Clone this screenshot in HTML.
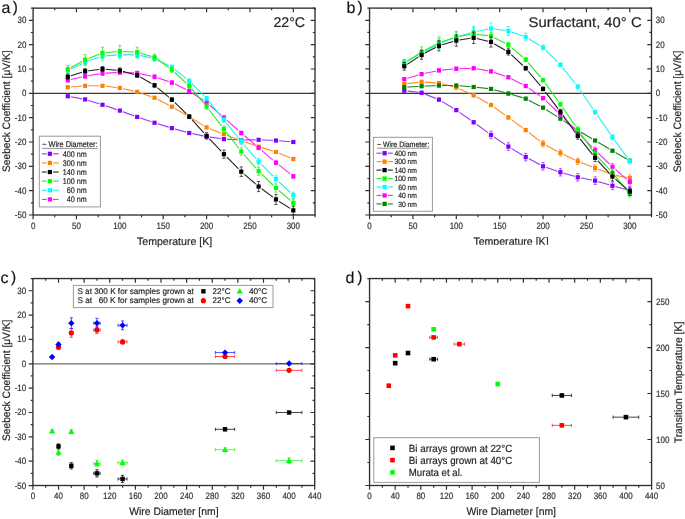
<!DOCTYPE html>
<html><head><meta charset="utf-8"><title>Seebeck figure</title>
<style>
html,body{margin:0;padding:0;background:#fff;}
body{width:685px;height:519px;overflow:hidden;}
svg{display:block;}
text{font-family:"Liberation Sans", sans-serif;text-rendering:geometricPrecision;stroke:#333;stroke-width:0.2px;}
</style></head>
<body>
<svg width="685" height="519" viewBox="0 0 685 519" style="will-change:transform">
<rect width="685" height="519" fill="#fff"/>
<line x1="33.1" y1="93.33" x2="315" y2="93.33" stroke="#3a3a3a" stroke-width="1.2"/>
<mask id="m1" maskUnits="userSpaceOnUse" x="0" y="0" width="685" height="519"><rect width="685" height="519" fill="#fff"/><rect x="64.7" y="93.15" width="6.2" height="6.2" fill="#000"/><rect x="82.04" y="96.31" width="6.2" height="6.2" fill="#000"/><rect x="99.39" y="101.67" width="6.2" height="6.2" fill="#000"/><rect x="116.74" y="107.51" width="6.2" height="6.2" fill="#000"/><rect x="134.09" y="113.83" width="6.2" height="6.2" fill="#000"/><rect x="151.44" y="119.68" width="6.2" height="6.2" fill="#000"/><rect x="168.78" y="125.03" width="6.2" height="6.2" fill="#000"/><rect x="186.13" y="129.9" width="6.2" height="6.2" fill="#000"/><rect x="203.48" y="133.55" width="6.2" height="6.2" fill="#000"/><rect x="220.83" y="135.98" width="6.2" height="6.2" fill="#000"/><rect x="238.18" y="136.95" width="6.2" height="6.2" fill="#000"/><rect x="255.52" y="136.71" width="6.2" height="6.2" fill="#000"/><rect x="272.87" y="137.44" width="6.2" height="6.2" fill="#000"/><rect x="290.22" y="138.9" width="6.2" height="6.2" fill="#000"/></mask>
<g mask="url(#m1)">
<polyline points="67.8,96.25 85.14,99.41 102.49,104.77 119.84,110.61 137.19,116.93 154.54,122.78 171.88,128.13 189.23,133 206.58,136.65 223.93,139.08 241.28,140.05 258.62,139.81 275.97,140.54 293.32,142" fill="none" stroke="#9933ff" stroke-width="1.1" stroke-linejoin="round"/>
</g>
<mask id="m2" maskUnits="userSpaceOnUse" x="0" y="0" width="685" height="519"><rect width="685" height="519" fill="#fff"/><rect x="64.7" y="84.15" width="6.2" height="6.2" fill="#000"/><rect x="82.04" y="82.69" width="6.2" height="6.2" fill="#000"/><rect x="99.39" y="82.69" width="6.2" height="6.2" fill="#000"/><rect x="116.74" y="84.88" width="6.2" height="6.2" fill="#000"/><rect x="134.09" y="88.77" width="6.2" height="6.2" fill="#000"/><rect x="151.44" y="94.61" width="6.2" height="6.2" fill="#000"/><rect x="168.78" y="103.61" width="6.2" height="6.2" fill="#000"/><rect x="186.13" y="113.59" width="6.2" height="6.2" fill="#000"/><rect x="203.48" y="124.3" width="6.2" height="6.2" fill="#000"/><rect x="220.83" y="131.11" width="6.2" height="6.2" fill="#000"/><rect x="238.18" y="137.68" width="6.2" height="6.2" fill="#000"/><rect x="255.52" y="143.52" width="6.2" height="6.2" fill="#000"/><rect x="272.87" y="148.88" width="6.2" height="6.2" fill="#000"/><rect x="290.22" y="155.93" width="6.2" height="6.2" fill="#000"/></mask>
<g mask="url(#m2)">
<polyline points="67.8,87.25 85.14,85.79 102.49,85.79 119.84,87.98 137.19,91.87 154.54,97.71 171.88,106.71 189.23,116.69 206.58,127.4 223.93,134.21 241.28,140.78 258.62,146.62 275.97,151.98 293.32,159.03" fill="none" stroke="#ff8c1a" stroke-width="1.1" stroke-linejoin="round"/>
</g>
<mask id="m3" maskUnits="userSpaceOnUse" x="0" y="0" width="685" height="519"><rect width="685" height="519" fill="#fff"/><rect x="64.7" y="77.09" width="6.2" height="6.2" fill="#000"/><rect x="82.04" y="73.2" width="6.2" height="6.2" fill="#000"/><rect x="99.39" y="70.28" width="6.2" height="6.2" fill="#000"/><rect x="116.74" y="69.3" width="6.2" height="6.2" fill="#000"/><rect x="134.09" y="70.03" width="6.2" height="6.2" fill="#000"/><rect x="151.44" y="73.68" width="6.2" height="6.2" fill="#000"/><rect x="168.78" y="79.52" width="6.2" height="6.2" fill="#000"/><rect x="186.13" y="87.92" width="6.2" height="6.2" fill="#000"/><rect x="203.48" y="99.48" width="6.2" height="6.2" fill="#000"/><rect x="220.83" y="114.56" width="6.2" height="6.2" fill="#000"/><rect x="238.18" y="129.9" width="6.2" height="6.2" fill="#000"/><rect x="255.52" y="144.74" width="6.2" height="6.2" fill="#000"/><rect x="272.87" y="159.58" width="6.2" height="6.2" fill="#000"/><rect x="290.22" y="173.21" width="6.2" height="6.2" fill="#000"/></mask>
<g mask="url(#m3)">
<polyline points="67.8,80.19 85.14,76.3 102.49,73.38 119.84,72.4 137.19,73.13 154.54,76.78 171.88,82.62 189.23,91.02 206.58,102.58 223.93,117.66 241.28,133 258.62,147.84 275.97,162.68 293.32,176.31" fill="none" stroke="#ff22ff" stroke-width="1.1" stroke-linejoin="round"/>
</g>
<mask id="m4" maskUnits="userSpaceOnUse" x="0" y="0" width="685" height="519"><rect width="685" height="519" fill="#fff"/><rect x="64.7" y="67.36" width="6.2" height="6.2" fill="#000"/><rect x="82.04" y="59.08" width="6.2" height="6.2" fill="#000"/><rect x="99.39" y="53" width="6.2" height="6.2" fill="#000"/><rect x="116.74" y="51.78" width="6.2" height="6.2" fill="#000"/><rect x="134.09" y="51.78" width="6.2" height="6.2" fill="#000"/><rect x="151.44" y="55.43" width="6.2" height="6.2" fill="#000"/><rect x="168.78" y="63.95" width="6.2" height="6.2" fill="#000"/><rect x="186.13" y="77.82" width="6.2" height="6.2" fill="#000"/><rect x="203.48" y="95.34" width="6.2" height="6.2" fill="#000"/><rect x="220.83" y="116.76" width="6.2" height="6.2" fill="#000"/><rect x="238.18" y="138.66" width="6.2" height="6.2" fill="#000"/><rect x="255.52" y="158.61" width="6.2" height="6.2" fill="#000"/><rect x="272.87" y="175.89" width="6.2" height="6.2" fill="#000"/><rect x="290.22" y="192.19" width="6.2" height="6.2" fill="#000"/></mask>
<g mask="url(#m4)">
<polyline points="67.8,70.46 85.14,62.18 102.49,56.1 119.84,54.88 137.19,54.88 154.54,58.53 171.88,67.05 189.23,80.92 206.58,98.44 223.93,119.86 241.28,141.76 258.62,161.71 275.97,178.99 293.32,195.29" fill="none" stroke="#22eeee" stroke-width="1.1" stroke-linejoin="round"/>
</g>
<mask id="m5" maskUnits="userSpaceOnUse" x="0" y="0" width="685" height="519"><rect width="685" height="519" fill="#fff"/><rect x="64.7" y="66.14" width="6.2" height="6.2" fill="#000"/><rect x="82.04" y="56.65" width="6.2" height="6.2" fill="#000"/><rect x="99.39" y="49.83" width="6.2" height="6.2" fill="#000"/><rect x="116.74" y="48.13" width="6.2" height="6.2" fill="#000"/><rect x="134.09" y="49.1" width="6.2" height="6.2" fill="#000"/><rect x="151.44" y="54.21" width="6.2" height="6.2" fill="#000"/><rect x="168.78" y="66.63" width="6.2" height="6.2" fill="#000"/><rect x="186.13" y="82.69" width="6.2" height="6.2" fill="#000"/><rect x="203.48" y="103.37" width="6.2" height="6.2" fill="#000"/><rect x="220.83" y="126" width="6.2" height="6.2" fill="#000"/><rect x="238.18" y="148.39" width="6.2" height="6.2" fill="#000"/><rect x="255.52" y="168.1" width="6.2" height="6.2" fill="#000"/><rect x="272.87" y="184.89" width="6.2" height="6.2" fill="#000"/><rect x="290.22" y="199.74" width="6.2" height="6.2" fill="#000"/></mask>
<g mask="url(#m5)">
<polyline points="67.8,69.24 85.14,59.75 102.49,52.93 119.84,51.23 137.19,52.2 154.54,57.31 171.88,69.73 189.23,85.79 206.58,106.47 223.93,129.1 241.28,151.49 258.62,171.2 275.97,187.99 293.32,202.84" fill="none" stroke="#22ee22" stroke-width="1.1" stroke-linejoin="round"/>
</g>
<mask id="m6" maskUnits="userSpaceOnUse" x="0" y="0" width="685" height="519"><rect width="685" height="519" fill="#fff"/><rect x="64.7" y="73.68" width="6.2" height="6.2" fill="#000"/><rect x="82.04" y="68.09" width="6.2" height="6.2" fill="#000"/><rect x="99.39" y="65.9" width="6.2" height="6.2" fill="#000"/><rect x="116.74" y="67.36" width="6.2" height="6.2" fill="#000"/><rect x="134.09" y="72.22" width="6.2" height="6.2" fill="#000"/><rect x="151.44" y="82.2" width="6.2" height="6.2" fill="#000"/><rect x="168.78" y="96.56" width="6.2" height="6.2" fill="#000"/><rect x="186.13" y="113.59" width="6.2" height="6.2" fill="#000"/><rect x="203.48" y="132.82" width="6.2" height="6.2" fill="#000"/><rect x="220.83" y="151.07" width="6.2" height="6.2" fill="#000"/><rect x="238.18" y="168.59" width="6.2" height="6.2" fill="#000"/><rect x="255.52" y="183.43" width="6.2" height="6.2" fill="#000"/><rect x="272.87" y="196.33" width="6.2" height="6.2" fill="#000"/><rect x="290.22" y="207.28" width="6.2" height="6.2" fill="#000"/></mask>
<g mask="url(#m6)">
<polyline points="67.8,76.78 85.14,71.19 102.49,69 119.84,70.46 137.19,75.32 154.54,85.3 171.88,99.66 189.23,116.69 206.58,135.92 223.93,154.17 241.28,171.69 258.62,186.53 275.97,199.43 293.32,210.38" fill="none" stroke="#222222" stroke-width="1.1" stroke-linejoin="round"/>
</g>
<line x1="67.8" y1="95.3" x2="67.8" y2="97.2" stroke="#9933ff" stroke-width="0.75"/>
<line x1="66.2" y1="95.3" x2="69.4" y2="95.3" stroke="#9933ff" stroke-width="0.75"/>
<line x1="66.2" y1="97.2" x2="69.4" y2="97.2" stroke="#9933ff" stroke-width="0.75"/>
<rect x="65.7" y="94.15" width="4.2" height="4.2" fill="#8000ff"/>
<line x1="85.14" y1="98.46" x2="85.14" y2="100.37" stroke="#9933ff" stroke-width="0.75"/>
<line x1="83.54" y1="98.46" x2="86.74" y2="98.46" stroke="#9933ff" stroke-width="0.75"/>
<line x1="83.54" y1="100.37" x2="86.74" y2="100.37" stroke="#9933ff" stroke-width="0.75"/>
<rect x="83.04" y="97.31" width="4.2" height="4.2" fill="#8000ff"/>
<line x1="102.49" y1="103.82" x2="102.49" y2="105.72" stroke="#9933ff" stroke-width="0.75"/>
<line x1="100.89" y1="103.82" x2="104.09" y2="103.82" stroke="#9933ff" stroke-width="0.75"/>
<line x1="100.89" y1="105.72" x2="104.09" y2="105.72" stroke="#9933ff" stroke-width="0.75"/>
<rect x="100.39" y="102.67" width="4.2" height="4.2" fill="#8000ff"/>
<line x1="119.84" y1="109.66" x2="119.84" y2="111.56" stroke="#9933ff" stroke-width="0.75"/>
<line x1="118.24" y1="109.66" x2="121.44" y2="109.66" stroke="#9933ff" stroke-width="0.75"/>
<line x1="118.24" y1="111.56" x2="121.44" y2="111.56" stroke="#9933ff" stroke-width="0.75"/>
<rect x="117.74" y="108.51" width="4.2" height="4.2" fill="#8000ff"/>
<line x1="137.19" y1="115.98" x2="137.19" y2="117.89" stroke="#9933ff" stroke-width="0.75"/>
<line x1="135.59" y1="115.98" x2="138.79" y2="115.98" stroke="#9933ff" stroke-width="0.75"/>
<line x1="135.59" y1="117.89" x2="138.79" y2="117.89" stroke="#9933ff" stroke-width="0.75"/>
<rect x="135.09" y="114.83" width="4.2" height="4.2" fill="#8000ff"/>
<line x1="154.54" y1="121.82" x2="154.54" y2="123.73" stroke="#9933ff" stroke-width="0.75"/>
<line x1="152.94" y1="121.82" x2="156.14" y2="121.82" stroke="#9933ff" stroke-width="0.75"/>
<line x1="152.94" y1="123.73" x2="156.14" y2="123.73" stroke="#9933ff" stroke-width="0.75"/>
<rect x="152.44" y="120.68" width="4.2" height="4.2" fill="#8000ff"/>
<line x1="171.88" y1="127.18" x2="171.88" y2="129.08" stroke="#9933ff" stroke-width="0.75"/>
<line x1="170.28" y1="127.18" x2="173.48" y2="127.18" stroke="#9933ff" stroke-width="0.75"/>
<line x1="170.28" y1="129.08" x2="173.48" y2="129.08" stroke="#9933ff" stroke-width="0.75"/>
<rect x="169.78" y="126.03" width="4.2" height="4.2" fill="#8000ff"/>
<line x1="189.23" y1="132.04" x2="189.23" y2="133.95" stroke="#9933ff" stroke-width="0.75"/>
<line x1="187.63" y1="132.04" x2="190.83" y2="132.04" stroke="#9933ff" stroke-width="0.75"/>
<line x1="187.63" y1="133.95" x2="190.83" y2="133.95" stroke="#9933ff" stroke-width="0.75"/>
<rect x="187.13" y="130.9" width="4.2" height="4.2" fill="#8000ff"/>
<line x1="206.58" y1="135.69" x2="206.58" y2="137.6" stroke="#9933ff" stroke-width="0.75"/>
<line x1="204.98" y1="135.69" x2="208.18" y2="135.69" stroke="#9933ff" stroke-width="0.75"/>
<line x1="204.98" y1="137.6" x2="208.18" y2="137.6" stroke="#9933ff" stroke-width="0.75"/>
<rect x="204.48" y="134.55" width="4.2" height="4.2" fill="#8000ff"/>
<line x1="223.93" y1="138.13" x2="223.93" y2="140.03" stroke="#9933ff" stroke-width="0.75"/>
<line x1="222.33" y1="138.13" x2="225.53" y2="138.13" stroke="#9933ff" stroke-width="0.75"/>
<line x1="222.33" y1="140.03" x2="225.53" y2="140.03" stroke="#9933ff" stroke-width="0.75"/>
<rect x="221.83" y="136.98" width="4.2" height="4.2" fill="#8000ff"/>
<line x1="241.28" y1="139.1" x2="241.28" y2="141" stroke="#9933ff" stroke-width="0.75"/>
<line x1="239.68" y1="139.1" x2="242.88" y2="139.1" stroke="#9933ff" stroke-width="0.75"/>
<line x1="239.68" y1="141" x2="242.88" y2="141" stroke="#9933ff" stroke-width="0.75"/>
<rect x="239.18" y="137.95" width="4.2" height="4.2" fill="#8000ff"/>
<line x1="258.62" y1="138.86" x2="258.62" y2="140.76" stroke="#9933ff" stroke-width="0.75"/>
<line x1="257.02" y1="138.86" x2="260.22" y2="138.86" stroke="#9933ff" stroke-width="0.75"/>
<line x1="257.02" y1="140.76" x2="260.22" y2="140.76" stroke="#9933ff" stroke-width="0.75"/>
<rect x="256.52" y="137.71" width="4.2" height="4.2" fill="#8000ff"/>
<line x1="275.97" y1="139.59" x2="275.97" y2="141.49" stroke="#9933ff" stroke-width="0.75"/>
<line x1="274.37" y1="139.59" x2="277.57" y2="139.59" stroke="#9933ff" stroke-width="0.75"/>
<line x1="274.37" y1="141.49" x2="277.57" y2="141.49" stroke="#9933ff" stroke-width="0.75"/>
<rect x="273.87" y="138.44" width="4.2" height="4.2" fill="#8000ff"/>
<line x1="293.32" y1="141.05" x2="293.32" y2="142.95" stroke="#9933ff" stroke-width="0.75"/>
<line x1="291.72" y1="141.05" x2="294.92" y2="141.05" stroke="#9933ff" stroke-width="0.75"/>
<line x1="291.72" y1="142.95" x2="294.92" y2="142.95" stroke="#9933ff" stroke-width="0.75"/>
<rect x="291.22" y="139.9" width="4.2" height="4.2" fill="#8000ff"/>
<line x1="67.8" y1="85.98" x2="67.8" y2="88.52" stroke="#ff8c1a" stroke-width="0.75"/>
<line x1="66.2" y1="85.98" x2="69.4" y2="85.98" stroke="#ff8c1a" stroke-width="0.75"/>
<line x1="66.2" y1="88.52" x2="69.4" y2="88.52" stroke="#ff8c1a" stroke-width="0.75"/>
<rect x="65.7" y="85.15" width="4.2" height="4.2" fill="#ff8000"/>
<line x1="85.14" y1="84.52" x2="85.14" y2="87.05" stroke="#ff8c1a" stroke-width="0.75"/>
<line x1="83.54" y1="84.52" x2="86.74" y2="84.52" stroke="#ff8c1a" stroke-width="0.75"/>
<line x1="83.54" y1="87.05" x2="86.74" y2="87.05" stroke="#ff8c1a" stroke-width="0.75"/>
<rect x="83.04" y="83.69" width="4.2" height="4.2" fill="#ff8000"/>
<line x1="102.49" y1="84.52" x2="102.49" y2="87.05" stroke="#ff8c1a" stroke-width="0.75"/>
<line x1="100.89" y1="84.52" x2="104.09" y2="84.52" stroke="#ff8c1a" stroke-width="0.75"/>
<line x1="100.89" y1="87.05" x2="104.09" y2="87.05" stroke="#ff8c1a" stroke-width="0.75"/>
<rect x="100.39" y="83.69" width="4.2" height="4.2" fill="#ff8000"/>
<line x1="119.84" y1="86.71" x2="119.84" y2="89.25" stroke="#ff8c1a" stroke-width="0.75"/>
<line x1="118.24" y1="86.71" x2="121.44" y2="86.71" stroke="#ff8c1a" stroke-width="0.75"/>
<line x1="118.24" y1="89.25" x2="121.44" y2="89.25" stroke="#ff8c1a" stroke-width="0.75"/>
<rect x="117.74" y="85.88" width="4.2" height="4.2" fill="#ff8000"/>
<line x1="137.19" y1="90.6" x2="137.19" y2="93.14" stroke="#ff8c1a" stroke-width="0.75"/>
<line x1="135.59" y1="90.6" x2="138.79" y2="90.6" stroke="#ff8c1a" stroke-width="0.75"/>
<line x1="135.59" y1="93.14" x2="138.79" y2="93.14" stroke="#ff8c1a" stroke-width="0.75"/>
<rect x="135.09" y="89.77" width="4.2" height="4.2" fill="#ff8000"/>
<line x1="154.54" y1="96.44" x2="154.54" y2="98.98" stroke="#ff8c1a" stroke-width="0.75"/>
<line x1="152.94" y1="96.44" x2="156.14" y2="96.44" stroke="#ff8c1a" stroke-width="0.75"/>
<line x1="152.94" y1="98.98" x2="156.14" y2="98.98" stroke="#ff8c1a" stroke-width="0.75"/>
<rect x="152.44" y="95.61" width="4.2" height="4.2" fill="#ff8000"/>
<line x1="171.88" y1="105.45" x2="171.88" y2="107.98" stroke="#ff8c1a" stroke-width="0.75"/>
<line x1="170.28" y1="105.45" x2="173.48" y2="105.45" stroke="#ff8c1a" stroke-width="0.75"/>
<line x1="170.28" y1="107.98" x2="173.48" y2="107.98" stroke="#ff8c1a" stroke-width="0.75"/>
<rect x="169.78" y="104.61" width="4.2" height="4.2" fill="#ff8000"/>
<line x1="189.23" y1="115.42" x2="189.23" y2="117.96" stroke="#ff8c1a" stroke-width="0.75"/>
<line x1="187.63" y1="115.42" x2="190.83" y2="115.42" stroke="#ff8c1a" stroke-width="0.75"/>
<line x1="187.63" y1="117.96" x2="190.83" y2="117.96" stroke="#ff8c1a" stroke-width="0.75"/>
<rect x="187.13" y="114.59" width="4.2" height="4.2" fill="#ff8000"/>
<line x1="206.58" y1="126.13" x2="206.58" y2="128.67" stroke="#ff8c1a" stroke-width="0.75"/>
<line x1="204.98" y1="126.13" x2="208.18" y2="126.13" stroke="#ff8c1a" stroke-width="0.75"/>
<line x1="204.98" y1="128.67" x2="208.18" y2="128.67" stroke="#ff8c1a" stroke-width="0.75"/>
<rect x="204.48" y="125.3" width="4.2" height="4.2" fill="#ff8000"/>
<line x1="223.93" y1="132.94" x2="223.93" y2="135.48" stroke="#ff8c1a" stroke-width="0.75"/>
<line x1="222.33" y1="132.94" x2="225.53" y2="132.94" stroke="#ff8c1a" stroke-width="0.75"/>
<line x1="222.33" y1="135.48" x2="225.53" y2="135.48" stroke="#ff8c1a" stroke-width="0.75"/>
<rect x="221.83" y="132.11" width="4.2" height="4.2" fill="#ff8000"/>
<line x1="241.28" y1="139.51" x2="241.28" y2="142.05" stroke="#ff8c1a" stroke-width="0.75"/>
<line x1="239.68" y1="139.51" x2="242.88" y2="139.51" stroke="#ff8c1a" stroke-width="0.75"/>
<line x1="239.68" y1="142.05" x2="242.88" y2="142.05" stroke="#ff8c1a" stroke-width="0.75"/>
<rect x="239.18" y="138.68" width="4.2" height="4.2" fill="#ff8000"/>
<line x1="258.62" y1="145.35" x2="258.62" y2="147.89" stroke="#ff8c1a" stroke-width="0.75"/>
<line x1="257.02" y1="145.35" x2="260.22" y2="145.35" stroke="#ff8c1a" stroke-width="0.75"/>
<line x1="257.02" y1="147.89" x2="260.22" y2="147.89" stroke="#ff8c1a" stroke-width="0.75"/>
<rect x="256.52" y="144.52" width="4.2" height="4.2" fill="#ff8000"/>
<line x1="275.97" y1="150.71" x2="275.97" y2="153.25" stroke="#ff8c1a" stroke-width="0.75"/>
<line x1="274.37" y1="150.71" x2="277.57" y2="150.71" stroke="#ff8c1a" stroke-width="0.75"/>
<line x1="274.37" y1="153.25" x2="277.57" y2="153.25" stroke="#ff8c1a" stroke-width="0.75"/>
<rect x="273.87" y="149.88" width="4.2" height="4.2" fill="#ff8000"/>
<line x1="293.32" y1="157.77" x2="293.32" y2="160.3" stroke="#ff8c1a" stroke-width="0.75"/>
<line x1="291.72" y1="157.77" x2="294.92" y2="157.77" stroke="#ff8c1a" stroke-width="0.75"/>
<line x1="291.72" y1="160.3" x2="294.92" y2="160.3" stroke="#ff8c1a" stroke-width="0.75"/>
<rect x="291.22" y="156.93" width="4.2" height="4.2" fill="#ff8000"/>
<line x1="67.8" y1="78.29" x2="67.8" y2="82.09" stroke="#ff22ff" stroke-width="0.75"/>
<line x1="66.2" y1="78.29" x2="69.4" y2="78.29" stroke="#ff22ff" stroke-width="0.75"/>
<line x1="66.2" y1="82.09" x2="69.4" y2="82.09" stroke="#ff22ff" stroke-width="0.75"/>
<rect x="65.7" y="78.09" width="4.2" height="4.2" fill="#ff00ff"/>
<line x1="85.14" y1="74.39" x2="85.14" y2="78.2" stroke="#ff22ff" stroke-width="0.75"/>
<line x1="83.54" y1="74.39" x2="86.74" y2="74.39" stroke="#ff22ff" stroke-width="0.75"/>
<line x1="83.54" y1="78.2" x2="86.74" y2="78.2" stroke="#ff22ff" stroke-width="0.75"/>
<rect x="83.04" y="74.2" width="4.2" height="4.2" fill="#ff00ff"/>
<line x1="102.49" y1="71.47" x2="102.49" y2="75.28" stroke="#ff22ff" stroke-width="0.75"/>
<line x1="100.89" y1="71.47" x2="104.09" y2="71.47" stroke="#ff22ff" stroke-width="0.75"/>
<line x1="100.89" y1="75.28" x2="104.09" y2="75.28" stroke="#ff22ff" stroke-width="0.75"/>
<rect x="100.39" y="71.28" width="4.2" height="4.2" fill="#ff00ff"/>
<line x1="119.84" y1="70.5" x2="119.84" y2="74.31" stroke="#ff22ff" stroke-width="0.75"/>
<line x1="118.24" y1="70.5" x2="121.44" y2="70.5" stroke="#ff22ff" stroke-width="0.75"/>
<line x1="118.24" y1="74.31" x2="121.44" y2="74.31" stroke="#ff22ff" stroke-width="0.75"/>
<rect x="117.74" y="70.3" width="4.2" height="4.2" fill="#ff00ff"/>
<line x1="137.19" y1="71.23" x2="137.19" y2="75.04" stroke="#ff22ff" stroke-width="0.75"/>
<line x1="135.59" y1="71.23" x2="138.79" y2="71.23" stroke="#ff22ff" stroke-width="0.75"/>
<line x1="135.59" y1="75.04" x2="138.79" y2="75.04" stroke="#ff22ff" stroke-width="0.75"/>
<rect x="135.09" y="71.03" width="4.2" height="4.2" fill="#ff00ff"/>
<line x1="154.54" y1="74.88" x2="154.54" y2="78.69" stroke="#ff22ff" stroke-width="0.75"/>
<line x1="152.94" y1="74.88" x2="156.14" y2="74.88" stroke="#ff22ff" stroke-width="0.75"/>
<line x1="152.94" y1="78.69" x2="156.14" y2="78.69" stroke="#ff22ff" stroke-width="0.75"/>
<rect x="152.44" y="74.68" width="4.2" height="4.2" fill="#ff00ff"/>
<line x1="171.88" y1="80.72" x2="171.88" y2="84.53" stroke="#ff22ff" stroke-width="0.75"/>
<line x1="170.28" y1="80.72" x2="173.48" y2="80.72" stroke="#ff22ff" stroke-width="0.75"/>
<line x1="170.28" y1="84.53" x2="173.48" y2="84.53" stroke="#ff22ff" stroke-width="0.75"/>
<rect x="169.78" y="80.52" width="4.2" height="4.2" fill="#ff00ff"/>
<line x1="189.23" y1="89.11" x2="189.23" y2="92.92" stroke="#ff22ff" stroke-width="0.75"/>
<line x1="187.63" y1="89.11" x2="190.83" y2="89.11" stroke="#ff22ff" stroke-width="0.75"/>
<line x1="187.63" y1="92.92" x2="190.83" y2="92.92" stroke="#ff22ff" stroke-width="0.75"/>
<rect x="187.13" y="88.92" width="4.2" height="4.2" fill="#ff00ff"/>
<line x1="206.58" y1="100.67" x2="206.58" y2="104.48" stroke="#ff22ff" stroke-width="0.75"/>
<line x1="204.98" y1="100.67" x2="208.18" y2="100.67" stroke="#ff22ff" stroke-width="0.75"/>
<line x1="204.98" y1="104.48" x2="208.18" y2="104.48" stroke="#ff22ff" stroke-width="0.75"/>
<rect x="204.48" y="100.48" width="4.2" height="4.2" fill="#ff00ff"/>
<line x1="223.93" y1="115.76" x2="223.93" y2="119.57" stroke="#ff22ff" stroke-width="0.75"/>
<line x1="222.33" y1="115.76" x2="225.53" y2="115.76" stroke="#ff22ff" stroke-width="0.75"/>
<line x1="222.33" y1="119.57" x2="225.53" y2="119.57" stroke="#ff22ff" stroke-width="0.75"/>
<rect x="221.83" y="115.56" width="4.2" height="4.2" fill="#ff00ff"/>
<line x1="241.28" y1="131.09" x2="241.28" y2="134.9" stroke="#ff22ff" stroke-width="0.75"/>
<line x1="239.68" y1="131.09" x2="242.88" y2="131.09" stroke="#ff22ff" stroke-width="0.75"/>
<line x1="239.68" y1="134.9" x2="242.88" y2="134.9" stroke="#ff22ff" stroke-width="0.75"/>
<rect x="239.18" y="130.9" width="4.2" height="4.2" fill="#ff00ff"/>
<line x1="258.62" y1="145.94" x2="258.62" y2="149.74" stroke="#ff22ff" stroke-width="0.75"/>
<line x1="257.02" y1="145.94" x2="260.22" y2="145.94" stroke="#ff22ff" stroke-width="0.75"/>
<line x1="257.02" y1="149.74" x2="260.22" y2="149.74" stroke="#ff22ff" stroke-width="0.75"/>
<rect x="256.52" y="145.74" width="4.2" height="4.2" fill="#ff00ff"/>
<line x1="275.97" y1="160.78" x2="275.97" y2="164.59" stroke="#ff22ff" stroke-width="0.75"/>
<line x1="274.37" y1="160.78" x2="277.57" y2="160.78" stroke="#ff22ff" stroke-width="0.75"/>
<line x1="274.37" y1="164.59" x2="277.57" y2="164.59" stroke="#ff22ff" stroke-width="0.75"/>
<rect x="273.87" y="160.58" width="4.2" height="4.2" fill="#ff00ff"/>
<line x1="293.32" y1="174.41" x2="293.32" y2="178.22" stroke="#ff22ff" stroke-width="0.75"/>
<line x1="291.72" y1="174.41" x2="294.92" y2="174.41" stroke="#ff22ff" stroke-width="0.75"/>
<line x1="291.72" y1="178.22" x2="294.92" y2="178.22" stroke="#ff22ff" stroke-width="0.75"/>
<rect x="291.22" y="174.21" width="4.2" height="4.2" fill="#ff00ff"/>
<line x1="67.8" y1="67.28" x2="67.8" y2="73.63" stroke="#22eeee" stroke-width="0.75"/>
<line x1="66.2" y1="67.28" x2="69.4" y2="67.28" stroke="#22eeee" stroke-width="0.75"/>
<line x1="66.2" y1="73.63" x2="69.4" y2="73.63" stroke="#22eeee" stroke-width="0.75"/>
<rect x="65.7" y="68.36" width="4.2" height="4.2" fill="#00ffff"/>
<line x1="85.14" y1="59.01" x2="85.14" y2="65.35" stroke="#22eeee" stroke-width="0.75"/>
<line x1="83.54" y1="59.01" x2="86.74" y2="59.01" stroke="#22eeee" stroke-width="0.75"/>
<line x1="83.54" y1="65.35" x2="86.74" y2="65.35" stroke="#22eeee" stroke-width="0.75"/>
<rect x="83.04" y="60.08" width="4.2" height="4.2" fill="#00ffff"/>
<line x1="102.49" y1="51.34" x2="102.49" y2="60.86" stroke="#22eeee" stroke-width="0.75"/>
<line x1="100.89" y1="51.34" x2="104.09" y2="51.34" stroke="#22eeee" stroke-width="0.75"/>
<line x1="100.89" y1="60.86" x2="104.09" y2="60.86" stroke="#22eeee" stroke-width="0.75"/>
<rect x="100.39" y="54" width="4.2" height="4.2" fill="#00ffff"/>
<line x1="119.84" y1="51.07" x2="119.84" y2="58.69" stroke="#22eeee" stroke-width="0.75"/>
<line x1="118.24" y1="51.07" x2="121.44" y2="51.07" stroke="#22eeee" stroke-width="0.75"/>
<line x1="118.24" y1="58.69" x2="121.44" y2="58.69" stroke="#22eeee" stroke-width="0.75"/>
<rect x="117.74" y="52.78" width="4.2" height="4.2" fill="#00ffff"/>
<line x1="137.19" y1="51.71" x2="137.19" y2="58.05" stroke="#22eeee" stroke-width="0.75"/>
<line x1="135.59" y1="51.71" x2="138.79" y2="51.71" stroke="#22eeee" stroke-width="0.75"/>
<line x1="135.59" y1="58.05" x2="138.79" y2="58.05" stroke="#22eeee" stroke-width="0.75"/>
<rect x="135.09" y="52.78" width="4.2" height="4.2" fill="#00ffff"/>
<line x1="154.54" y1="55.99" x2="154.54" y2="61.07" stroke="#22eeee" stroke-width="0.75"/>
<line x1="152.94" y1="55.99" x2="156.14" y2="55.99" stroke="#22eeee" stroke-width="0.75"/>
<line x1="152.94" y1="61.07" x2="156.14" y2="61.07" stroke="#22eeee" stroke-width="0.75"/>
<rect x="152.44" y="56.43" width="4.2" height="4.2" fill="#00ffff"/>
<line x1="171.88" y1="65.14" x2="171.88" y2="68.95" stroke="#22eeee" stroke-width="0.75"/>
<line x1="170.28" y1="65.14" x2="173.48" y2="65.14" stroke="#22eeee" stroke-width="0.75"/>
<line x1="170.28" y1="68.95" x2="173.48" y2="68.95" stroke="#22eeee" stroke-width="0.75"/>
<rect x="169.78" y="64.95" width="4.2" height="4.2" fill="#00ffff"/>
<line x1="189.23" y1="79.02" x2="189.23" y2="82.82" stroke="#22eeee" stroke-width="0.75"/>
<line x1="187.63" y1="79.02" x2="190.83" y2="79.02" stroke="#22eeee" stroke-width="0.75"/>
<line x1="187.63" y1="82.82" x2="190.83" y2="82.82" stroke="#22eeee" stroke-width="0.75"/>
<rect x="187.13" y="78.82" width="4.2" height="4.2" fill="#00ffff"/>
<line x1="206.58" y1="96.54" x2="206.58" y2="100.34" stroke="#22eeee" stroke-width="0.75"/>
<line x1="204.98" y1="96.54" x2="208.18" y2="96.54" stroke="#22eeee" stroke-width="0.75"/>
<line x1="204.98" y1="100.34" x2="208.18" y2="100.34" stroke="#22eeee" stroke-width="0.75"/>
<rect x="204.48" y="96.34" width="4.2" height="4.2" fill="#00ffff"/>
<line x1="223.93" y1="117.32" x2="223.93" y2="122.39" stroke="#22eeee" stroke-width="0.75"/>
<line x1="222.33" y1="117.32" x2="225.53" y2="117.32" stroke="#22eeee" stroke-width="0.75"/>
<line x1="222.33" y1="122.39" x2="225.53" y2="122.39" stroke="#22eeee" stroke-width="0.75"/>
<rect x="221.83" y="117.76" width="4.2" height="4.2" fill="#00ffff"/>
<line x1="241.28" y1="138.58" x2="241.28" y2="144.93" stroke="#22eeee" stroke-width="0.75"/>
<line x1="239.68" y1="138.58" x2="242.88" y2="138.58" stroke="#22eeee" stroke-width="0.75"/>
<line x1="239.68" y1="144.93" x2="242.88" y2="144.93" stroke="#22eeee" stroke-width="0.75"/>
<rect x="239.18" y="139.66" width="4.2" height="4.2" fill="#00ffff"/>
<line x1="258.62" y1="158.54" x2="258.62" y2="164.88" stroke="#22eeee" stroke-width="0.75"/>
<line x1="257.02" y1="158.54" x2="260.22" y2="158.54" stroke="#22eeee" stroke-width="0.75"/>
<line x1="257.02" y1="164.88" x2="260.22" y2="164.88" stroke="#22eeee" stroke-width="0.75"/>
<rect x="256.52" y="159.61" width="4.2" height="4.2" fill="#00ffff"/>
<line x1="275.97" y1="175.82" x2="275.97" y2="182.16" stroke="#22eeee" stroke-width="0.75"/>
<line x1="274.37" y1="175.82" x2="277.57" y2="175.82" stroke="#22eeee" stroke-width="0.75"/>
<line x1="274.37" y1="182.16" x2="277.57" y2="182.16" stroke="#22eeee" stroke-width="0.75"/>
<rect x="273.87" y="176.89" width="4.2" height="4.2" fill="#00ffff"/>
<line x1="293.32" y1="192.12" x2="293.32" y2="198.47" stroke="#22eeee" stroke-width="0.75"/>
<line x1="291.72" y1="192.12" x2="294.92" y2="192.12" stroke="#22eeee" stroke-width="0.75"/>
<line x1="291.72" y1="198.47" x2="294.92" y2="198.47" stroke="#22eeee" stroke-width="0.75"/>
<rect x="291.22" y="193.19" width="4.2" height="4.2" fill="#00ffff"/>
<line x1="67.8" y1="65.43" x2="67.8" y2="73.04" stroke="#22ee22" stroke-width="0.75"/>
<line x1="66.2" y1="65.43" x2="69.4" y2="65.43" stroke="#22ee22" stroke-width="0.75"/>
<line x1="66.2" y1="73.04" x2="69.4" y2="73.04" stroke="#22ee22" stroke-width="0.75"/>
<rect x="65.7" y="67.14" width="4.2" height="4.2" fill="#00ff00"/>
<line x1="85.14" y1="54.67" x2="85.14" y2="64.82" stroke="#22ee22" stroke-width="0.75"/>
<line x1="83.54" y1="54.67" x2="86.74" y2="54.67" stroke="#22ee22" stroke-width="0.75"/>
<line x1="83.54" y1="64.82" x2="86.74" y2="64.82" stroke="#22ee22" stroke-width="0.75"/>
<rect x="83.04" y="57.65" width="4.2" height="4.2" fill="#00ff00"/>
<line x1="102.49" y1="47.22" x2="102.49" y2="58.64" stroke="#22ee22" stroke-width="0.75"/>
<line x1="100.89" y1="47.22" x2="104.09" y2="47.22" stroke="#22ee22" stroke-width="0.75"/>
<line x1="100.89" y1="58.64" x2="104.09" y2="58.64" stroke="#22ee22" stroke-width="0.75"/>
<rect x="100.39" y="50.83" width="4.2" height="4.2" fill="#00ff00"/>
<line x1="119.84" y1="45.52" x2="119.84" y2="56.94" stroke="#22ee22" stroke-width="0.75"/>
<line x1="118.24" y1="45.52" x2="121.44" y2="45.52" stroke="#22ee22" stroke-width="0.75"/>
<line x1="118.24" y1="56.94" x2="121.44" y2="56.94" stroke="#22ee22" stroke-width="0.75"/>
<rect x="117.74" y="49.13" width="4.2" height="4.2" fill="#00ff00"/>
<line x1="137.19" y1="47.13" x2="137.19" y2="57.28" stroke="#22ee22" stroke-width="0.75"/>
<line x1="135.59" y1="47.13" x2="138.79" y2="47.13" stroke="#22ee22" stroke-width="0.75"/>
<line x1="135.59" y1="57.28" x2="138.79" y2="57.28" stroke="#22ee22" stroke-width="0.75"/>
<rect x="135.09" y="50.1" width="4.2" height="4.2" fill="#00ff00"/>
<line x1="154.54" y1="54.14" x2="154.54" y2="60.49" stroke="#22ee22" stroke-width="0.75"/>
<line x1="152.94" y1="54.14" x2="156.14" y2="54.14" stroke="#22ee22" stroke-width="0.75"/>
<line x1="152.94" y1="60.49" x2="156.14" y2="60.49" stroke="#22ee22" stroke-width="0.75"/>
<rect x="152.44" y="55.21" width="4.2" height="4.2" fill="#00ff00"/>
<line x1="171.88" y1="67.19" x2="171.88" y2="72.26" stroke="#22ee22" stroke-width="0.75"/>
<line x1="170.28" y1="67.19" x2="173.48" y2="67.19" stroke="#22ee22" stroke-width="0.75"/>
<line x1="170.28" y1="72.26" x2="173.48" y2="72.26" stroke="#22ee22" stroke-width="0.75"/>
<rect x="169.78" y="67.63" width="4.2" height="4.2" fill="#00ff00"/>
<line x1="189.23" y1="83.25" x2="189.23" y2="88.32" stroke="#22ee22" stroke-width="0.75"/>
<line x1="187.63" y1="83.25" x2="190.83" y2="83.25" stroke="#22ee22" stroke-width="0.75"/>
<line x1="187.63" y1="88.32" x2="190.83" y2="88.32" stroke="#22ee22" stroke-width="0.75"/>
<rect x="187.13" y="83.69" width="4.2" height="4.2" fill="#00ff00"/>
<line x1="206.58" y1="103.93" x2="206.58" y2="109.01" stroke="#22ee22" stroke-width="0.75"/>
<line x1="204.98" y1="103.93" x2="208.18" y2="103.93" stroke="#22ee22" stroke-width="0.75"/>
<line x1="204.98" y1="109.01" x2="208.18" y2="109.01" stroke="#22ee22" stroke-width="0.75"/>
<rect x="204.48" y="104.37" width="4.2" height="4.2" fill="#00ff00"/>
<line x1="223.93" y1="125.93" x2="223.93" y2="132.27" stroke="#22ee22" stroke-width="0.75"/>
<line x1="222.33" y1="125.93" x2="225.53" y2="125.93" stroke="#22ee22" stroke-width="0.75"/>
<line x1="222.33" y1="132.27" x2="225.53" y2="132.27" stroke="#22ee22" stroke-width="0.75"/>
<rect x="221.83" y="127" width="4.2" height="4.2" fill="#00ff00"/>
<line x1="241.28" y1="147.68" x2="241.28" y2="155.3" stroke="#22ee22" stroke-width="0.75"/>
<line x1="239.68" y1="147.68" x2="242.88" y2="147.68" stroke="#22ee22" stroke-width="0.75"/>
<line x1="239.68" y1="155.3" x2="242.88" y2="155.3" stroke="#22ee22" stroke-width="0.75"/>
<rect x="239.18" y="149.39" width="4.2" height="4.2" fill="#00ff00"/>
<line x1="258.62" y1="167.08" x2="258.62" y2="175.33" stroke="#22ee22" stroke-width="0.75"/>
<line x1="257.02" y1="167.08" x2="260.22" y2="167.08" stroke="#22ee22" stroke-width="0.75"/>
<line x1="257.02" y1="175.33" x2="260.22" y2="175.33" stroke="#22ee22" stroke-width="0.75"/>
<rect x="256.52" y="169.1" width="4.2" height="4.2" fill="#00ff00"/>
<line x1="275.97" y1="183.87" x2="275.97" y2="192.12" stroke="#22ee22" stroke-width="0.75"/>
<line x1="274.37" y1="183.87" x2="277.57" y2="183.87" stroke="#22ee22" stroke-width="0.75"/>
<line x1="274.37" y1="192.12" x2="277.57" y2="192.12" stroke="#22ee22" stroke-width="0.75"/>
<rect x="273.87" y="185.89" width="4.2" height="4.2" fill="#00ff00"/>
<line x1="293.32" y1="199.03" x2="293.32" y2="206.64" stroke="#22ee22" stroke-width="0.75"/>
<line x1="291.72" y1="199.03" x2="294.92" y2="199.03" stroke="#22ee22" stroke-width="0.75"/>
<line x1="291.72" y1="206.64" x2="294.92" y2="206.64" stroke="#22ee22" stroke-width="0.75"/>
<rect x="291.22" y="200.74" width="4.2" height="4.2" fill="#00ff00"/>
<line x1="67.8" y1="74.24" x2="67.8" y2="79.32" stroke="#222222" stroke-width="0.75"/>
<line x1="66.2" y1="74.24" x2="69.4" y2="74.24" stroke="#222222" stroke-width="0.75"/>
<line x1="66.2" y1="79.32" x2="69.4" y2="79.32" stroke="#222222" stroke-width="0.75"/>
<rect x="65.7" y="74.68" width="4.2" height="4.2" fill="#000000"/>
<line x1="85.14" y1="68.65" x2="85.14" y2="73.72" stroke="#222222" stroke-width="0.75"/>
<line x1="83.54" y1="68.65" x2="86.74" y2="68.65" stroke="#222222" stroke-width="0.75"/>
<line x1="83.54" y1="73.72" x2="86.74" y2="73.72" stroke="#222222" stroke-width="0.75"/>
<rect x="83.04" y="69.09" width="4.2" height="4.2" fill="#000000"/>
<line x1="102.49" y1="66.46" x2="102.49" y2="71.53" stroke="#222222" stroke-width="0.75"/>
<line x1="100.89" y1="66.46" x2="104.09" y2="66.46" stroke="#222222" stroke-width="0.75"/>
<line x1="100.89" y1="71.53" x2="104.09" y2="71.53" stroke="#222222" stroke-width="0.75"/>
<rect x="100.39" y="66.9" width="4.2" height="4.2" fill="#000000"/>
<line x1="119.84" y1="67.92" x2="119.84" y2="72.99" stroke="#222222" stroke-width="0.75"/>
<line x1="118.24" y1="67.92" x2="121.44" y2="67.92" stroke="#222222" stroke-width="0.75"/>
<line x1="118.24" y1="72.99" x2="121.44" y2="72.99" stroke="#222222" stroke-width="0.75"/>
<rect x="117.74" y="68.36" width="4.2" height="4.2" fill="#000000"/>
<line x1="137.19" y1="73.42" x2="137.19" y2="77.23" stroke="#222222" stroke-width="0.75"/>
<line x1="135.59" y1="73.42" x2="138.79" y2="73.42" stroke="#222222" stroke-width="0.75"/>
<line x1="135.59" y1="77.23" x2="138.79" y2="77.23" stroke="#222222" stroke-width="0.75"/>
<rect x="135.09" y="73.22" width="4.2" height="4.2" fill="#000000"/>
<line x1="154.54" y1="83.4" x2="154.54" y2="87.2" stroke="#222222" stroke-width="0.75"/>
<line x1="152.94" y1="83.4" x2="156.14" y2="83.4" stroke="#222222" stroke-width="0.75"/>
<line x1="152.94" y1="87.2" x2="156.14" y2="87.2" stroke="#222222" stroke-width="0.75"/>
<rect x="152.44" y="83.2" width="4.2" height="4.2" fill="#000000"/>
<line x1="171.88" y1="97.75" x2="171.88" y2="101.56" stroke="#222222" stroke-width="0.75"/>
<line x1="170.28" y1="97.75" x2="173.48" y2="97.75" stroke="#222222" stroke-width="0.75"/>
<line x1="170.28" y1="101.56" x2="173.48" y2="101.56" stroke="#222222" stroke-width="0.75"/>
<rect x="169.78" y="97.56" width="4.2" height="4.2" fill="#000000"/>
<line x1="189.23" y1="114.79" x2="189.23" y2="118.59" stroke="#222222" stroke-width="0.75"/>
<line x1="187.63" y1="114.79" x2="190.83" y2="114.79" stroke="#222222" stroke-width="0.75"/>
<line x1="187.63" y1="118.59" x2="190.83" y2="118.59" stroke="#222222" stroke-width="0.75"/>
<rect x="187.13" y="114.59" width="4.2" height="4.2" fill="#000000"/>
<line x1="206.58" y1="132.74" x2="206.58" y2="139.09" stroke="#222222" stroke-width="0.75"/>
<line x1="204.98" y1="132.74" x2="208.18" y2="132.74" stroke="#222222" stroke-width="0.75"/>
<line x1="204.98" y1="139.09" x2="208.18" y2="139.09" stroke="#222222" stroke-width="0.75"/>
<rect x="204.48" y="133.82" width="4.2" height="4.2" fill="#000000"/>
<line x1="223.93" y1="150.04" x2="223.93" y2="158.29" stroke="#222222" stroke-width="0.75"/>
<line x1="222.33" y1="150.04" x2="225.53" y2="150.04" stroke="#222222" stroke-width="0.75"/>
<line x1="222.33" y1="158.29" x2="225.53" y2="158.29" stroke="#222222" stroke-width="0.75"/>
<rect x="221.83" y="152.07" width="4.2" height="4.2" fill="#000000"/>
<line x1="241.28" y1="166.93" x2="241.28" y2="176.45" stroke="#222222" stroke-width="0.75"/>
<line x1="239.68" y1="166.93" x2="242.88" y2="166.93" stroke="#222222" stroke-width="0.75"/>
<line x1="239.68" y1="176.45" x2="242.88" y2="176.45" stroke="#222222" stroke-width="0.75"/>
<rect x="239.18" y="169.59" width="4.2" height="4.2" fill="#000000"/>
<line x1="258.62" y1="181.46" x2="258.62" y2="191.61" stroke="#222222" stroke-width="0.75"/>
<line x1="257.02" y1="181.46" x2="260.22" y2="181.46" stroke="#222222" stroke-width="0.75"/>
<line x1="257.02" y1="191.61" x2="260.22" y2="191.61" stroke="#222222" stroke-width="0.75"/>
<rect x="256.52" y="184.43" width="4.2" height="4.2" fill="#000000"/>
<line x1="275.97" y1="194.36" x2="275.97" y2="204.51" stroke="#222222" stroke-width="0.75"/>
<line x1="274.37" y1="194.36" x2="277.57" y2="194.36" stroke="#222222" stroke-width="0.75"/>
<line x1="274.37" y1="204.51" x2="277.57" y2="204.51" stroke="#222222" stroke-width="0.75"/>
<rect x="273.87" y="197.33" width="4.2" height="4.2" fill="#000000"/>
<line x1="293.32" y1="205.94" x2="293.32" y2="214.82" stroke="#222222" stroke-width="0.75"/>
<line x1="291.72" y1="205.94" x2="294.92" y2="205.94" stroke="#222222" stroke-width="0.75"/>
<line x1="291.72" y1="214.82" x2="294.92" y2="214.82" stroke="#222222" stroke-width="0.75"/>
<rect x="291.22" y="208.28" width="4.2" height="4.2" fill="#000000"/>
<rect x="33.1" y="8.15" width="281.9" height="206.85" fill="none" stroke="#303030" stroke-width="1.35"/>
<path d="M33.1 215v4.2M76.47 215v4.2M76.47 8.15v4.2M119.84 215v4.2M119.84 8.15v4.2M163.21 215v4.2M163.21 8.15v4.2M206.58 215v4.2M206.58 8.15v4.2M249.95 215v4.2M249.95 8.15v4.2M293.32 215v4.2M293.32 8.15v4.2M54.78 215v2.2M54.78 8.15v2.2M98.16 215v2.2M98.16 8.15v2.2M141.53 215v2.2M141.53 8.15v2.2M184.89 215v2.2M184.89 8.15v2.2M228.26 215v2.2M228.26 8.15v2.2M271.63 215v2.2M271.63 8.15v2.2M315 215v2.2M315 8.15v2.2M33.1 215h-4.2M33.1 190.67h-4.2M315 190.67h-4.2M33.1 166.33h-4.2M315 166.33h-4.2M33.1 142h-4.2M315 142h-4.2M33.1 117.66h-4.2M315 117.66h-4.2M33.1 93.33h-4.2M315 93.33h-4.2M33.1 69h-4.2M315 69h-4.2M33.1 44.66h-4.2M315 44.66h-4.2M33.1 20.33h-4.2M315 20.33h-4.2M33.1 202.84h-2.2M315 202.84h-2.2M33.1 178.5h-2.2M315 178.5h-2.2M33.1 154.17h-2.2M315 154.17h-2.2M33.1 129.83h-2.2M315 129.83h-2.2M33.1 105.5h-2.2M315 105.5h-2.2M33.1 81.16h-2.2M315 81.16h-2.2M33.1 56.83h-2.2M315 56.83h-2.2M33.1 32.49h-2.2M315 32.49h-2.2M33.1 8.16h-2.2M315 8.16h-2.2" fill="none" stroke="#303030" stroke-width="1.2"/>
<text x="26.4" y="218" font-size="9.2" text-anchor="end" fill="#333" textLength="11.56" lengthAdjust="spacingAndGlyphs">-50</text>
<text x="26.4" y="193.67" font-size="9.2" text-anchor="end" fill="#333" textLength="11.56" lengthAdjust="spacingAndGlyphs">-40</text>
<text x="26.4" y="169.33" font-size="9.2" text-anchor="end" fill="#333" textLength="11.56" lengthAdjust="spacingAndGlyphs">-30</text>
<text x="26.4" y="145" font-size="9.2" text-anchor="end" fill="#333" textLength="11.56" lengthAdjust="spacingAndGlyphs">-20</text>
<text x="26.4" y="120.66" font-size="9.2" text-anchor="end" fill="#333" textLength="11.56" lengthAdjust="spacingAndGlyphs">-10</text>
<text x="26.4" y="96.33" font-size="9.2" text-anchor="end" fill="#333" textLength="4.45" lengthAdjust="spacingAndGlyphs">0</text>
<text x="26.4" y="72" font-size="9.2" text-anchor="end" fill="#333" textLength="8.9" lengthAdjust="spacingAndGlyphs">10</text>
<text x="26.4" y="47.66" font-size="9.2" text-anchor="end" fill="#333" textLength="8.9" lengthAdjust="spacingAndGlyphs">20</text>
<text x="26.4" y="23.33" font-size="9.2" text-anchor="end" fill="#333" textLength="8.9" lengthAdjust="spacingAndGlyphs">30</text>
<text x="33.1" y="228.8" font-size="9.2" text-anchor="middle" fill="#333" textLength="4.45" lengthAdjust="spacingAndGlyphs">0</text>
<text x="76.47" y="228.8" font-size="9.2" text-anchor="middle" fill="#333" textLength="8.9" lengthAdjust="spacingAndGlyphs">50</text>
<text x="119.84" y="228.8" font-size="9.2" text-anchor="middle" fill="#333" textLength="13.35" lengthAdjust="spacingAndGlyphs">100</text>
<text x="163.21" y="228.8" font-size="9.2" text-anchor="middle" fill="#333" textLength="13.35" lengthAdjust="spacingAndGlyphs">150</text>
<text x="206.58" y="228.8" font-size="9.2" text-anchor="middle" fill="#333" textLength="13.35" lengthAdjust="spacingAndGlyphs">200</text>
<text x="249.95" y="228.8" font-size="9.2" text-anchor="middle" fill="#333" textLength="13.35" lengthAdjust="spacingAndGlyphs">250</text>
<text x="293.32" y="228.8" font-size="9.2" text-anchor="middle" fill="#333" textLength="13.35" lengthAdjust="spacingAndGlyphs">300</text>
<text x="174.6" y="244.8" font-size="10.8" text-anchor="middle" fill="#222" textLength="75.2" lengthAdjust="spacingAndGlyphs">Temperature [K]</text>
<text transform="translate(10.2,111.2) rotate(-90)" font-size="10.8" text-anchor="middle" fill="#222" textLength="121.6" lengthAdjust="spacingAndGlyphs">Seebeck Coefficient [μV/K]</text>
<text x="1.6" y="13.1" font-size="16" text-anchor="start" fill="#111">a</text>
<text x="12.8" y="12.3" font-size="15.3" text-anchor="start" fill="#111">)</text>
<text x="273.4" y="27.3" font-size="14" text-anchor="start" fill="#222" textLength="31.7" lengthAdjust="spacingAndGlyphs">22°C</text>
<rect x="39.3" y="136.2" width="61.1" height="70.7" fill="#fff" stroke="#999" stroke-width="1"/>
<text x="42.2" y="147.2" font-size="8.2" text-anchor="start" fill="#222" textLength="55.3" lengthAdjust="spacingAndGlyphs">~ Wire Diameter:</text>
<line x1="42.2" y1="148.4" x2="97.5" y2="148.4" stroke="#444" stroke-width="0.6"/>
<line x1="41.9" y1="153.8" x2="46.8" y2="153.8" stroke="#9933ff" stroke-width="1.1"/>
<line x1="53" y1="153.8" x2="58.7" y2="153.8" stroke="#9933ff" stroke-width="1.1"/>
<rect x="47.8" y="151.7" width="4.2" height="4.2" fill="#8000ff"/>
<text x="62.8" y="156.8" font-size="8.2" text-anchor="start" fill="#222" textLength="24" lengthAdjust="spacingAndGlyphs">400 nm</text>
<line x1="41.9" y1="162.92" x2="46.8" y2="162.92" stroke="#ff8c1a" stroke-width="1.1"/>
<line x1="53" y1="162.92" x2="58.7" y2="162.92" stroke="#ff8c1a" stroke-width="1.1"/>
<rect x="47.8" y="160.82" width="4.2" height="4.2" fill="#ff8000"/>
<text x="62.8" y="165.92" font-size="8.2" text-anchor="start" fill="#222" textLength="24" lengthAdjust="spacingAndGlyphs">300 nm</text>
<line x1="41.9" y1="172.04" x2="46.8" y2="172.04" stroke="#222222" stroke-width="1.1"/>
<line x1="53" y1="172.04" x2="58.7" y2="172.04" stroke="#222222" stroke-width="1.1"/>
<rect x="47.8" y="169.94" width="4.2" height="4.2" fill="#000000"/>
<text x="62.8" y="175.04" font-size="8.2" text-anchor="start" fill="#222" textLength="24" lengthAdjust="spacingAndGlyphs">140 nm</text>
<line x1="41.9" y1="181.16" x2="46.8" y2="181.16" stroke="#22ee22" stroke-width="1.1"/>
<line x1="53" y1="181.16" x2="58.7" y2="181.16" stroke="#22ee22" stroke-width="1.1"/>
<rect x="47.8" y="179.06" width="4.2" height="4.2" fill="#00ff00"/>
<text x="62.8" y="184.16" font-size="8.2" text-anchor="start" fill="#222" textLength="24" lengthAdjust="spacingAndGlyphs">100 nm</text>
<line x1="41.9" y1="190.28" x2="46.8" y2="190.28" stroke="#22eeee" stroke-width="1.1"/>
<line x1="53" y1="190.28" x2="58.7" y2="190.28" stroke="#22eeee" stroke-width="1.1"/>
<rect x="47.8" y="188.18" width="4.2" height="4.2" fill="#00ffff"/>
<text x="66.8" y="193.28" font-size="8.2" text-anchor="start" fill="#222" textLength="20" lengthAdjust="spacingAndGlyphs">60 nm</text>
<line x1="41.9" y1="199.4" x2="46.8" y2="199.4" stroke="#ff22ff" stroke-width="1.1"/>
<line x1="53" y1="199.4" x2="58.7" y2="199.4" stroke="#ff22ff" stroke-width="1.1"/>
<rect x="47.8" y="197.3" width="4.2" height="4.2" fill="#ff00ff"/>
<text x="66.8" y="202.4" font-size="8.2" text-anchor="start" fill="#222" textLength="20" lengthAdjust="spacingAndGlyphs">40 nm</text>
<line x1="369.55" y1="93.3" x2="651.5" y2="93.3" stroke="#3a3a3a" stroke-width="1.2"/>
<mask id="m7" maskUnits="userSpaceOnUse" x="0" y="0" width="685" height="519"><rect width="685" height="519" fill="#fff"/><rect x="401.15" y="87.52" width="6.2" height="6.2" fill="#000"/><rect x="418.5" y="89.71" width="6.2" height="6.2" fill="#000"/><rect x="435.85" y="96.53" width="6.2" height="6.2" fill="#000"/><rect x="453.2" y="106.99" width="6.2" height="6.2" fill="#000"/><rect x="470.55" y="119.16" width="6.2" height="6.2" fill="#000"/><rect x="487.9" y="131.82" width="6.2" height="6.2" fill="#000"/><rect x="505.25" y="143.5" width="6.2" height="6.2" fill="#000"/><rect x="522.6" y="153.97" width="6.2" height="6.2" fill="#000"/><rect x="539.95" y="163.22" width="6.2" height="6.2" fill="#000"/><rect x="557.3" y="169.06" width="6.2" height="6.2" fill="#000"/><rect x="574.65" y="174.17" width="6.2" height="6.2" fill="#000"/><rect x="592" y="177.58" width="6.2" height="6.2" fill="#000"/><rect x="609.35" y="182.69" width="6.2" height="6.2" fill="#000"/><rect x="626.7" y="187.32" width="6.2" height="6.2" fill="#000"/></mask>
<g mask="url(#m7)">
<polyline points="404.25,90.62 421.6,92.81 438.95,99.63 456.3,110.09 473.65,122.26 491,134.92 508.35,146.6 525.7,157.07 543.05,166.32 560.4,172.16 577.75,177.27 595.1,180.68 612.45,185.79 629.8,190.42" fill="none" stroke="#9933ff" stroke-width="1.1" stroke-linejoin="round"/>
</g>
<mask id="m8" maskUnits="userSpaceOnUse" x="0" y="0" width="685" height="519"><rect width="685" height="519" fill="#fff"/><rect x="401.15" y="80.95" width="6.2" height="6.2" fill="#000"/><rect x="418.5" y="78.76" width="6.2" height="6.2" fill="#000"/><rect x="435.85" y="79.98" width="6.2" height="6.2" fill="#000"/><rect x="453.2" y="84.36" width="6.2" height="6.2" fill="#000"/><rect x="470.55" y="92.15" width="6.2" height="6.2" fill="#000"/><rect x="487.9" y="101.88" width="6.2" height="6.2" fill="#000"/><rect x="505.25" y="114.3" width="6.2" height="6.2" fill="#000"/><rect x="522.6" y="126.95" width="6.2" height="6.2" fill="#000"/><rect x="539.95" y="140.58" width="6.2" height="6.2" fill="#000"/><rect x="557.3" y="149.83" width="6.2" height="6.2" fill="#000"/><rect x="574.65" y="158.11" width="6.2" height="6.2" fill="#000"/><rect x="592" y="164.92" width="6.2" height="6.2" fill="#000"/><rect x="609.35" y="171.74" width="6.2" height="6.2" fill="#000"/><rect x="626.7" y="174.9" width="6.2" height="6.2" fill="#000"/></mask>
<g mask="url(#m8)">
<polyline points="404.25,84.05 421.6,81.86 438.95,83.08 456.3,87.46 473.65,95.25 491,104.98 508.35,117.4 525.7,130.05 543.05,143.68 560.4,152.93 577.75,161.21 595.1,168.02 612.45,174.84 629.8,178" fill="none" stroke="#ff8c1a" stroke-width="1.1" stroke-linejoin="round"/>
</g>
<mask id="m9" maskUnits="userSpaceOnUse" x="0" y="0" width="685" height="519"><rect width="685" height="519" fill="#fff"/><rect x="401.15" y="84.12" width="6.2" height="6.2" fill="#000"/><rect x="418.5" y="83.14" width="6.2" height="6.2" fill="#000"/><rect x="435.85" y="82.41" width="6.2" height="6.2" fill="#000"/><rect x="453.2" y="82.41" width="6.2" height="6.2" fill="#000"/><rect x="470.55" y="83.87" width="6.2" height="6.2" fill="#000"/><rect x="487.9" y="85.82" width="6.2" height="6.2" fill="#000"/><rect x="505.25" y="90.44" width="6.2" height="6.2" fill="#000"/><rect x="522.6" y="95.55" width="6.2" height="6.2" fill="#000"/><rect x="539.95" y="104.56" width="6.2" height="6.2" fill="#000"/><rect x="557.3" y="115.51" width="6.2" height="6.2" fill="#000"/><rect x="574.65" y="127.2" width="6.2" height="6.2" fill="#000"/><rect x="592" y="137.42" width="6.2" height="6.2" fill="#000"/><rect x="609.35" y="147.64" width="6.2" height="6.2" fill="#000"/><rect x="626.7" y="157.62" width="6.2" height="6.2" fill="#000"/></mask>
<g mask="url(#m9)">
<polyline points="404.25,87.22 421.6,86.24 438.95,85.51 456.3,85.51 473.65,86.97 491,88.92 508.35,93.54 525.7,98.65 543.05,107.66 560.4,118.61 577.75,130.3 595.1,140.52 612.45,150.74 629.8,160.72" fill="none" stroke="#118811" stroke-width="1.1" stroke-linejoin="round"/>
</g>
<mask id="m10" maskUnits="userSpaceOnUse" x="0" y="0" width="685" height="519"><rect width="685" height="519" fill="#fff"/><rect x="401.15" y="76.08" width="6.2" height="6.2" fill="#000"/><rect x="418.5" y="70.97" width="6.2" height="6.2" fill="#000"/><rect x="435.85" y="67.32" width="6.2" height="6.2" fill="#000"/><rect x="453.2" y="65.62" width="6.2" height="6.2" fill="#000"/><rect x="470.55" y="65.13" width="6.2" height="6.2" fill="#000"/><rect x="487.9" y="68.29" width="6.2" height="6.2" fill="#000"/><rect x="505.25" y="74.14" width="6.2" height="6.2" fill="#000"/><rect x="522.6" y="82.9" width="6.2" height="6.2" fill="#000"/><rect x="539.95" y="95.07" width="6.2" height="6.2" fill="#000"/><rect x="557.3" y="111.38" width="6.2" height="6.2" fill="#000"/><rect x="574.65" y="129.39" width="6.2" height="6.2" fill="#000"/><rect x="592" y="147.16" width="6.2" height="6.2" fill="#000"/><rect x="609.35" y="163.71" width="6.2" height="6.2" fill="#000"/><rect x="626.7" y="178.8" width="6.2" height="6.2" fill="#000"/></mask>
<g mask="url(#m10)">
<polyline points="404.25,79.18 421.6,74.07 438.95,70.42 456.3,68.72 473.65,68.23 491,71.39 508.35,77.24 525.7,86 543.05,98.17 560.4,114.48 577.75,132.49 595.1,150.26 612.45,166.81 629.8,181.9" fill="none" stroke="#ff22ff" stroke-width="1.1" stroke-linejoin="round"/>
</g>
<mask id="m11" maskUnits="userSpaceOnUse" x="0" y="0" width="685" height="519"><rect width="685" height="519" fill="#fff"/><rect x="401.15" y="59.29" width="6.2" height="6.2" fill="#000"/><rect x="418.5" y="50.04" width="6.2" height="6.2" fill="#000"/><rect x="435.85" y="40.55" width="6.2" height="6.2" fill="#000"/><rect x="453.2" y="33.97" width="6.2" height="6.2" fill="#000"/><rect x="470.55" y="28.86" width="6.2" height="6.2" fill="#000"/><rect x="487.9" y="25.46" width="6.2" height="6.2" fill="#000"/><rect x="505.25" y="27.89" width="6.2" height="6.2" fill="#000"/><rect x="522.6" y="33.97" width="6.2" height="6.2" fill="#000"/><rect x="539.95" y="44.44" width="6.2" height="6.2" fill="#000"/><rect x="557.3" y="61.72" width="6.2" height="6.2" fill="#000"/><rect x="574.65" y="83.63" width="6.2" height="6.2" fill="#000"/><rect x="592" y="108.94" width="6.2" height="6.2" fill="#000"/><rect x="609.35" y="134.01" width="6.2" height="6.2" fill="#000"/><rect x="626.7" y="158.11" width="6.2" height="6.2" fill="#000"/></mask>
<g mask="url(#m11)">
<polyline points="404.25,62.39 421.6,53.14 438.95,43.65 456.3,37.07 473.65,31.96 491,28.56 508.35,30.99 525.7,37.07 543.05,47.54 560.4,64.82 577.75,86.73 595.1,112.04 612.45,137.11 629.8,161.21" fill="none" stroke="#22eeee" stroke-width="1.1" stroke-linejoin="round"/>
</g>
<mask id="m12" maskUnits="userSpaceOnUse" x="0" y="0" width="685" height="519"><rect width="685" height="519" fill="#fff"/><rect x="401.15" y="60.26" width="6.2" height="6.2" fill="#000"/><rect x="418.5" y="48.82" width="6.2" height="6.2" fill="#000"/><rect x="435.85" y="39.57" width="6.2" height="6.2" fill="#000"/><rect x="453.2" y="33.97" width="6.2" height="6.2" fill="#000"/><rect x="470.55" y="30.57" width="6.2" height="6.2" fill="#000"/><rect x="487.9" y="33" width="6.2" height="6.2" fill="#000"/><rect x="505.25" y="41.76" width="6.2" height="6.2" fill="#000"/><rect x="522.6" y="56.61" width="6.2" height="6.2" fill="#000"/><rect x="539.95" y="77.06" width="6.2" height="6.2" fill="#000"/><rect x="557.3" y="101.15" width="6.2" height="6.2" fill="#000"/><rect x="574.65" y="126.22" width="6.2" height="6.2" fill="#000"/><rect x="592" y="151.05" width="6.2" height="6.2" fill="#000"/><rect x="609.35" y="169.55" width="6.2" height="6.2" fill="#000"/><rect x="626.7" y="190.72" width="6.2" height="6.2" fill="#000"/></mask>
<g mask="url(#m12)">
<polyline points="404.25,63.36 421.6,51.92 438.95,42.67 456.3,37.07 473.65,33.67 491,36.1 508.35,44.86 525.7,59.71 543.05,80.16 560.4,104.25 577.75,129.32 595.1,154.15 612.45,172.65 629.8,193.82" fill="none" stroke="#22ee22" stroke-width="1.1" stroke-linejoin="round"/>
</g>
<mask id="m13" maskUnits="userSpaceOnUse" x="0" y="0" width="685" height="519"><rect width="685" height="519" fill="#fff"/><rect x="401.15" y="63.18" width="6.2" height="6.2" fill="#000"/><rect x="418.5" y="51.74" width="6.2" height="6.2" fill="#000"/><rect x="435.85" y="42.74" width="6.2" height="6.2" fill="#000"/><rect x="453.2" y="37.38" width="6.2" height="6.2" fill="#000"/><rect x="470.55" y="34.7" width="6.2" height="6.2" fill="#000"/><rect x="487.9" y="38.84" width="6.2" height="6.2" fill="#000"/><rect x="505.25" y="48.82" width="6.2" height="6.2" fill="#000"/><rect x="522.6" y="65.13" width="6.2" height="6.2" fill="#000"/><rect x="539.95" y="85.82" width="6.2" height="6.2" fill="#000"/><rect x="557.3" y="108.7" width="6.2" height="6.2" fill="#000"/><rect x="574.65" y="132.8" width="6.2" height="6.2" fill="#000"/><rect x="592" y="154.7" width="6.2" height="6.2" fill="#000"/><rect x="609.35" y="173.44" width="6.2" height="6.2" fill="#000"/><rect x="626.7" y="188.53" width="6.2" height="6.2" fill="#000"/></mask>
<g mask="url(#m13)">
<polyline points="404.25,66.28 421.6,54.84 438.95,45.84 456.3,40.48 473.65,37.8 491,41.94 508.35,51.92 525.7,68.23 543.05,88.92 560.4,111.8 577.75,135.9 595.1,157.8 612.45,176.54 629.8,191.63" fill="none" stroke="#222222" stroke-width="1.1" stroke-linejoin="round"/>
</g>
<line x1="404.25" y1="89.04" x2="404.25" y2="92.21" stroke="#9933ff" stroke-width="0.75"/>
<line x1="402.65" y1="89.04" x2="405.85" y2="89.04" stroke="#9933ff" stroke-width="0.75"/>
<line x1="402.65" y1="92.21" x2="405.85" y2="92.21" stroke="#9933ff" stroke-width="0.75"/>
<rect x="402.15" y="88.52" width="4.2" height="4.2" fill="#8000ff"/>
<line x1="421.6" y1="91.23" x2="421.6" y2="94.4" stroke="#9933ff" stroke-width="0.75"/>
<line x1="420" y1="91.23" x2="423.2" y2="91.23" stroke="#9933ff" stroke-width="0.75"/>
<line x1="420" y1="94.4" x2="423.2" y2="94.4" stroke="#9933ff" stroke-width="0.75"/>
<rect x="419.5" y="90.71" width="4.2" height="4.2" fill="#8000ff"/>
<line x1="438.95" y1="98.04" x2="438.95" y2="101.21" stroke="#9933ff" stroke-width="0.75"/>
<line x1="437.35" y1="98.04" x2="440.55" y2="98.04" stroke="#9933ff" stroke-width="0.75"/>
<line x1="437.35" y1="101.21" x2="440.55" y2="101.21" stroke="#9933ff" stroke-width="0.75"/>
<rect x="436.85" y="97.53" width="4.2" height="4.2" fill="#8000ff"/>
<line x1="456.3" y1="108.51" x2="456.3" y2="111.68" stroke="#9933ff" stroke-width="0.75"/>
<line x1="454.7" y1="108.51" x2="457.9" y2="108.51" stroke="#9933ff" stroke-width="0.75"/>
<line x1="454.7" y1="111.68" x2="457.9" y2="111.68" stroke="#9933ff" stroke-width="0.75"/>
<rect x="454.2" y="107.99" width="4.2" height="4.2" fill="#8000ff"/>
<line x1="473.65" y1="120.68" x2="473.65" y2="123.85" stroke="#9933ff" stroke-width="0.75"/>
<line x1="472.05" y1="120.68" x2="475.25" y2="120.68" stroke="#9933ff" stroke-width="0.75"/>
<line x1="472.05" y1="123.85" x2="475.25" y2="123.85" stroke="#9933ff" stroke-width="0.75"/>
<rect x="471.55" y="120.16" width="4.2" height="4.2" fill="#8000ff"/>
<line x1="491" y1="131.12" x2="491" y2="138.73" stroke="#9933ff" stroke-width="0.75"/>
<line x1="489.4" y1="131.12" x2="492.6" y2="131.12" stroke="#9933ff" stroke-width="0.75"/>
<line x1="489.4" y1="138.73" x2="492.6" y2="138.73" stroke="#9933ff" stroke-width="0.75"/>
<rect x="488.9" y="132.82" width="4.2" height="4.2" fill="#8000ff"/>
<line x1="508.35" y1="142.8" x2="508.35" y2="150.41" stroke="#9933ff" stroke-width="0.75"/>
<line x1="506.75" y1="142.8" x2="509.95" y2="142.8" stroke="#9933ff" stroke-width="0.75"/>
<line x1="506.75" y1="150.41" x2="509.95" y2="150.41" stroke="#9933ff" stroke-width="0.75"/>
<rect x="506.25" y="144.5" width="4.2" height="4.2" fill="#8000ff"/>
<line x1="525.7" y1="153.26" x2="525.7" y2="160.88" stroke="#9933ff" stroke-width="0.75"/>
<line x1="524.1" y1="153.26" x2="527.3" y2="153.26" stroke="#9933ff" stroke-width="0.75"/>
<line x1="524.1" y1="160.88" x2="527.3" y2="160.88" stroke="#9933ff" stroke-width="0.75"/>
<rect x="523.6" y="154.97" width="4.2" height="4.2" fill="#8000ff"/>
<line x1="543.05" y1="162.51" x2="543.05" y2="170.13" stroke="#9933ff" stroke-width="0.75"/>
<line x1="541.45" y1="162.51" x2="544.65" y2="162.51" stroke="#9933ff" stroke-width="0.75"/>
<line x1="541.45" y1="170.13" x2="544.65" y2="170.13" stroke="#9933ff" stroke-width="0.75"/>
<rect x="540.95" y="164.22" width="4.2" height="4.2" fill="#8000ff"/>
<line x1="560.4" y1="168.36" x2="560.4" y2="175.97" stroke="#9933ff" stroke-width="0.75"/>
<line x1="558.8" y1="168.36" x2="562" y2="168.36" stroke="#9933ff" stroke-width="0.75"/>
<line x1="558.8" y1="175.97" x2="562" y2="175.97" stroke="#9933ff" stroke-width="0.75"/>
<rect x="558.3" y="170.06" width="4.2" height="4.2" fill="#8000ff"/>
<line x1="577.75" y1="173.47" x2="577.75" y2="181.08" stroke="#9933ff" stroke-width="0.75"/>
<line x1="576.15" y1="173.47" x2="579.35" y2="173.47" stroke="#9933ff" stroke-width="0.75"/>
<line x1="576.15" y1="181.08" x2="579.35" y2="181.08" stroke="#9933ff" stroke-width="0.75"/>
<rect x="575.65" y="175.17" width="4.2" height="4.2" fill="#8000ff"/>
<line x1="595.1" y1="176.87" x2="595.1" y2="184.49" stroke="#9933ff" stroke-width="0.75"/>
<line x1="593.5" y1="176.87" x2="596.7" y2="176.87" stroke="#9933ff" stroke-width="0.75"/>
<line x1="593.5" y1="184.49" x2="596.7" y2="184.49" stroke="#9933ff" stroke-width="0.75"/>
<rect x="593" y="178.58" width="4.2" height="4.2" fill="#8000ff"/>
<line x1="612.45" y1="181.99" x2="612.45" y2="189.6" stroke="#9933ff" stroke-width="0.75"/>
<line x1="610.85" y1="181.99" x2="614.05" y2="181.99" stroke="#9933ff" stroke-width="0.75"/>
<line x1="610.85" y1="189.6" x2="614.05" y2="189.6" stroke="#9933ff" stroke-width="0.75"/>
<rect x="610.35" y="183.69" width="4.2" height="4.2" fill="#8000ff"/>
<line x1="629.8" y1="186.61" x2="629.8" y2="194.22" stroke="#9933ff" stroke-width="0.75"/>
<line x1="628.2" y1="186.61" x2="631.4" y2="186.61" stroke="#9933ff" stroke-width="0.75"/>
<line x1="628.2" y1="194.22" x2="631.4" y2="194.22" stroke="#9933ff" stroke-width="0.75"/>
<rect x="627.7" y="188.32" width="4.2" height="4.2" fill="#8000ff"/>
<line x1="404.25" y1="82.46" x2="404.25" y2="85.64" stroke="#ff8c1a" stroke-width="0.75"/>
<line x1="402.65" y1="82.46" x2="405.85" y2="82.46" stroke="#ff8c1a" stroke-width="0.75"/>
<line x1="402.65" y1="85.64" x2="405.85" y2="85.64" stroke="#ff8c1a" stroke-width="0.75"/>
<rect x="402.15" y="81.95" width="4.2" height="4.2" fill="#ff8000"/>
<line x1="421.6" y1="80.27" x2="421.6" y2="83.45" stroke="#ff8c1a" stroke-width="0.75"/>
<line x1="420" y1="80.27" x2="423.2" y2="80.27" stroke="#ff8c1a" stroke-width="0.75"/>
<line x1="420" y1="83.45" x2="423.2" y2="83.45" stroke="#ff8c1a" stroke-width="0.75"/>
<rect x="419.5" y="79.76" width="4.2" height="4.2" fill="#ff8000"/>
<line x1="438.95" y1="81.49" x2="438.95" y2="84.66" stroke="#ff8c1a" stroke-width="0.75"/>
<line x1="437.35" y1="81.49" x2="440.55" y2="81.49" stroke="#ff8c1a" stroke-width="0.75"/>
<line x1="437.35" y1="84.66" x2="440.55" y2="84.66" stroke="#ff8c1a" stroke-width="0.75"/>
<rect x="436.85" y="80.98" width="4.2" height="4.2" fill="#ff8000"/>
<line x1="456.3" y1="85.87" x2="456.3" y2="89.04" stroke="#ff8c1a" stroke-width="0.75"/>
<line x1="454.7" y1="85.87" x2="457.9" y2="85.87" stroke="#ff8c1a" stroke-width="0.75"/>
<line x1="454.7" y1="89.04" x2="457.9" y2="89.04" stroke="#ff8c1a" stroke-width="0.75"/>
<rect x="454.2" y="85.36" width="4.2" height="4.2" fill="#ff8000"/>
<line x1="473.65" y1="93.66" x2="473.65" y2="96.83" stroke="#ff8c1a" stroke-width="0.75"/>
<line x1="472.05" y1="93.66" x2="475.25" y2="93.66" stroke="#ff8c1a" stroke-width="0.75"/>
<line x1="472.05" y1="96.83" x2="475.25" y2="96.83" stroke="#ff8c1a" stroke-width="0.75"/>
<rect x="471.55" y="93.15" width="4.2" height="4.2" fill="#ff8000"/>
<line x1="491" y1="103.4" x2="491" y2="106.57" stroke="#ff8c1a" stroke-width="0.75"/>
<line x1="489.4" y1="103.4" x2="492.6" y2="103.4" stroke="#ff8c1a" stroke-width="0.75"/>
<line x1="489.4" y1="106.57" x2="492.6" y2="106.57" stroke="#ff8c1a" stroke-width="0.75"/>
<rect x="488.9" y="102.88" width="4.2" height="4.2" fill="#ff8000"/>
<line x1="508.35" y1="115.81" x2="508.35" y2="118.98" stroke="#ff8c1a" stroke-width="0.75"/>
<line x1="506.75" y1="115.81" x2="509.95" y2="115.81" stroke="#ff8c1a" stroke-width="0.75"/>
<line x1="506.75" y1="118.98" x2="509.95" y2="118.98" stroke="#ff8c1a" stroke-width="0.75"/>
<rect x="506.25" y="115.3" width="4.2" height="4.2" fill="#ff8000"/>
<line x1="525.7" y1="128.47" x2="525.7" y2="131.64" stroke="#ff8c1a" stroke-width="0.75"/>
<line x1="524.1" y1="128.47" x2="527.3" y2="128.47" stroke="#ff8c1a" stroke-width="0.75"/>
<line x1="524.1" y1="131.64" x2="527.3" y2="131.64" stroke="#ff8c1a" stroke-width="0.75"/>
<rect x="523.6" y="127.95" width="4.2" height="4.2" fill="#ff8000"/>
<line x1="543.05" y1="140.51" x2="543.05" y2="146.86" stroke="#ff8c1a" stroke-width="0.75"/>
<line x1="541.45" y1="140.51" x2="544.65" y2="140.51" stroke="#ff8c1a" stroke-width="0.75"/>
<line x1="541.45" y1="146.86" x2="544.65" y2="146.86" stroke="#ff8c1a" stroke-width="0.75"/>
<rect x="540.95" y="141.58" width="4.2" height="4.2" fill="#ff8000"/>
<line x1="560.4" y1="149.76" x2="560.4" y2="156.1" stroke="#ff8c1a" stroke-width="0.75"/>
<line x1="558.8" y1="149.76" x2="562" y2="149.76" stroke="#ff8c1a" stroke-width="0.75"/>
<line x1="558.8" y1="156.1" x2="562" y2="156.1" stroke="#ff8c1a" stroke-width="0.75"/>
<rect x="558.3" y="150.83" width="4.2" height="4.2" fill="#ff8000"/>
<line x1="577.75" y1="158.04" x2="577.75" y2="164.38" stroke="#ff8c1a" stroke-width="0.75"/>
<line x1="576.15" y1="158.04" x2="579.35" y2="158.04" stroke="#ff8c1a" stroke-width="0.75"/>
<line x1="576.15" y1="164.38" x2="579.35" y2="164.38" stroke="#ff8c1a" stroke-width="0.75"/>
<rect x="575.65" y="159.11" width="4.2" height="4.2" fill="#ff8000"/>
<line x1="595.1" y1="164.85" x2="595.1" y2="171.2" stroke="#ff8c1a" stroke-width="0.75"/>
<line x1="593.5" y1="164.85" x2="596.7" y2="164.85" stroke="#ff8c1a" stroke-width="0.75"/>
<line x1="593.5" y1="171.2" x2="596.7" y2="171.2" stroke="#ff8c1a" stroke-width="0.75"/>
<rect x="593" y="165.92" width="4.2" height="4.2" fill="#ff8000"/>
<line x1="612.45" y1="171.67" x2="612.45" y2="178.01" stroke="#ff8c1a" stroke-width="0.75"/>
<line x1="610.85" y1="171.67" x2="614.05" y2="171.67" stroke="#ff8c1a" stroke-width="0.75"/>
<line x1="610.85" y1="178.01" x2="614.05" y2="178.01" stroke="#ff8c1a" stroke-width="0.75"/>
<rect x="610.35" y="172.74" width="4.2" height="4.2" fill="#ff8000"/>
<line x1="629.8" y1="174.83" x2="629.8" y2="181.18" stroke="#ff8c1a" stroke-width="0.75"/>
<line x1="628.2" y1="174.83" x2="631.4" y2="174.83" stroke="#ff8c1a" stroke-width="0.75"/>
<line x1="628.2" y1="181.18" x2="631.4" y2="181.18" stroke="#ff8c1a" stroke-width="0.75"/>
<rect x="627.7" y="175.9" width="4.2" height="4.2" fill="#ff8000"/>
<line x1="404.25" y1="85.95" x2="404.25" y2="88.48" stroke="#118811" stroke-width="0.75"/>
<line x1="402.65" y1="85.95" x2="405.85" y2="85.95" stroke="#118811" stroke-width="0.75"/>
<line x1="402.65" y1="88.48" x2="405.85" y2="88.48" stroke="#118811" stroke-width="0.75"/>
<rect x="402.15" y="85.12" width="4.2" height="4.2" fill="#008000"/>
<line x1="421.6" y1="84.97" x2="421.6" y2="87.51" stroke="#118811" stroke-width="0.75"/>
<line x1="420" y1="84.97" x2="423.2" y2="84.97" stroke="#118811" stroke-width="0.75"/>
<line x1="420" y1="87.51" x2="423.2" y2="87.51" stroke="#118811" stroke-width="0.75"/>
<rect x="419.5" y="84.14" width="4.2" height="4.2" fill="#008000"/>
<line x1="438.95" y1="84.24" x2="438.95" y2="86.78" stroke="#118811" stroke-width="0.75"/>
<line x1="437.35" y1="84.24" x2="440.55" y2="84.24" stroke="#118811" stroke-width="0.75"/>
<line x1="437.35" y1="86.78" x2="440.55" y2="86.78" stroke="#118811" stroke-width="0.75"/>
<rect x="436.85" y="83.41" width="4.2" height="4.2" fill="#008000"/>
<line x1="456.3" y1="84.24" x2="456.3" y2="86.78" stroke="#118811" stroke-width="0.75"/>
<line x1="454.7" y1="84.24" x2="457.9" y2="84.24" stroke="#118811" stroke-width="0.75"/>
<line x1="454.7" y1="86.78" x2="457.9" y2="86.78" stroke="#118811" stroke-width="0.75"/>
<rect x="454.2" y="83.41" width="4.2" height="4.2" fill="#008000"/>
<line x1="473.65" y1="85.7" x2="473.65" y2="88.24" stroke="#118811" stroke-width="0.75"/>
<line x1="472.05" y1="85.7" x2="475.25" y2="85.7" stroke="#118811" stroke-width="0.75"/>
<line x1="472.05" y1="88.24" x2="475.25" y2="88.24" stroke="#118811" stroke-width="0.75"/>
<rect x="471.55" y="84.87" width="4.2" height="4.2" fill="#008000"/>
<line x1="491" y1="87.65" x2="491" y2="90.19" stroke="#118811" stroke-width="0.75"/>
<line x1="489.4" y1="87.65" x2="492.6" y2="87.65" stroke="#118811" stroke-width="0.75"/>
<line x1="489.4" y1="90.19" x2="492.6" y2="90.19" stroke="#118811" stroke-width="0.75"/>
<rect x="488.9" y="86.82" width="4.2" height="4.2" fill="#008000"/>
<line x1="508.35" y1="92.27" x2="508.35" y2="94.81" stroke="#118811" stroke-width="0.75"/>
<line x1="506.75" y1="92.27" x2="509.95" y2="92.27" stroke="#118811" stroke-width="0.75"/>
<line x1="506.75" y1="94.81" x2="509.95" y2="94.81" stroke="#118811" stroke-width="0.75"/>
<rect x="506.25" y="91.44" width="4.2" height="4.2" fill="#008000"/>
<line x1="525.7" y1="97.39" x2="525.7" y2="99.92" stroke="#118811" stroke-width="0.75"/>
<line x1="524.1" y1="97.39" x2="527.3" y2="97.39" stroke="#118811" stroke-width="0.75"/>
<line x1="524.1" y1="99.92" x2="527.3" y2="99.92" stroke="#118811" stroke-width="0.75"/>
<rect x="523.6" y="96.55" width="4.2" height="4.2" fill="#008000"/>
<line x1="543.05" y1="106.39" x2="543.05" y2="108.93" stroke="#118811" stroke-width="0.75"/>
<line x1="541.45" y1="106.39" x2="544.65" y2="106.39" stroke="#118811" stroke-width="0.75"/>
<line x1="541.45" y1="108.93" x2="544.65" y2="108.93" stroke="#118811" stroke-width="0.75"/>
<rect x="540.95" y="105.56" width="4.2" height="4.2" fill="#008000"/>
<line x1="560.4" y1="117.34" x2="560.4" y2="119.88" stroke="#118811" stroke-width="0.75"/>
<line x1="558.8" y1="117.34" x2="562" y2="117.34" stroke="#118811" stroke-width="0.75"/>
<line x1="558.8" y1="119.88" x2="562" y2="119.88" stroke="#118811" stroke-width="0.75"/>
<rect x="558.3" y="116.51" width="4.2" height="4.2" fill="#008000"/>
<line x1="577.75" y1="129.03" x2="577.75" y2="131.57" stroke="#118811" stroke-width="0.75"/>
<line x1="576.15" y1="129.03" x2="579.35" y2="129.03" stroke="#118811" stroke-width="0.75"/>
<line x1="576.15" y1="131.57" x2="579.35" y2="131.57" stroke="#118811" stroke-width="0.75"/>
<rect x="575.65" y="128.2" width="4.2" height="4.2" fill="#008000"/>
<line x1="595.1" y1="139.25" x2="595.1" y2="141.79" stroke="#118811" stroke-width="0.75"/>
<line x1="593.5" y1="139.25" x2="596.7" y2="139.25" stroke="#118811" stroke-width="0.75"/>
<line x1="593.5" y1="141.79" x2="596.7" y2="141.79" stroke="#118811" stroke-width="0.75"/>
<rect x="593" y="138.42" width="4.2" height="4.2" fill="#008000"/>
<line x1="612.45" y1="149.47" x2="612.45" y2="152.01" stroke="#118811" stroke-width="0.75"/>
<line x1="610.85" y1="149.47" x2="614.05" y2="149.47" stroke="#118811" stroke-width="0.75"/>
<line x1="610.85" y1="152.01" x2="614.05" y2="152.01" stroke="#118811" stroke-width="0.75"/>
<rect x="610.35" y="148.64" width="4.2" height="4.2" fill="#008000"/>
<line x1="629.8" y1="159.45" x2="629.8" y2="161.99" stroke="#118811" stroke-width="0.75"/>
<line x1="628.2" y1="159.45" x2="631.4" y2="159.45" stroke="#118811" stroke-width="0.75"/>
<line x1="628.2" y1="161.99" x2="631.4" y2="161.99" stroke="#118811" stroke-width="0.75"/>
<rect x="627.7" y="158.62" width="4.2" height="4.2" fill="#008000"/>
<line x1="404.25" y1="77.6" x2="404.25" y2="80.77" stroke="#ff22ff" stroke-width="0.75"/>
<line x1="402.65" y1="77.6" x2="405.85" y2="77.6" stroke="#ff22ff" stroke-width="0.75"/>
<line x1="402.65" y1="80.77" x2="405.85" y2="80.77" stroke="#ff22ff" stroke-width="0.75"/>
<rect x="402.15" y="77.08" width="4.2" height="4.2" fill="#ff00ff"/>
<line x1="421.6" y1="72.49" x2="421.6" y2="75.66" stroke="#ff22ff" stroke-width="0.75"/>
<line x1="420" y1="72.49" x2="423.2" y2="72.49" stroke="#ff22ff" stroke-width="0.75"/>
<line x1="420" y1="75.66" x2="423.2" y2="75.66" stroke="#ff22ff" stroke-width="0.75"/>
<rect x="419.5" y="71.97" width="4.2" height="4.2" fill="#ff00ff"/>
<line x1="438.95" y1="68.83" x2="438.95" y2="72.01" stroke="#ff22ff" stroke-width="0.75"/>
<line x1="437.35" y1="68.83" x2="440.55" y2="68.83" stroke="#ff22ff" stroke-width="0.75"/>
<line x1="437.35" y1="72.01" x2="440.55" y2="72.01" stroke="#ff22ff" stroke-width="0.75"/>
<rect x="436.85" y="68.32" width="4.2" height="4.2" fill="#ff00ff"/>
<line x1="456.3" y1="67.13" x2="456.3" y2="70.3" stroke="#ff22ff" stroke-width="0.75"/>
<line x1="454.7" y1="67.13" x2="457.9" y2="67.13" stroke="#ff22ff" stroke-width="0.75"/>
<line x1="454.7" y1="70.3" x2="457.9" y2="70.3" stroke="#ff22ff" stroke-width="0.75"/>
<rect x="454.2" y="66.62" width="4.2" height="4.2" fill="#ff00ff"/>
<line x1="473.65" y1="66.64" x2="473.65" y2="69.82" stroke="#ff22ff" stroke-width="0.75"/>
<line x1="472.05" y1="66.64" x2="475.25" y2="66.64" stroke="#ff22ff" stroke-width="0.75"/>
<line x1="472.05" y1="69.82" x2="475.25" y2="69.82" stroke="#ff22ff" stroke-width="0.75"/>
<rect x="471.55" y="66.13" width="4.2" height="4.2" fill="#ff00ff"/>
<line x1="491" y1="69.81" x2="491" y2="72.98" stroke="#ff22ff" stroke-width="0.75"/>
<line x1="489.4" y1="69.81" x2="492.6" y2="69.81" stroke="#ff22ff" stroke-width="0.75"/>
<line x1="489.4" y1="72.98" x2="492.6" y2="72.98" stroke="#ff22ff" stroke-width="0.75"/>
<rect x="488.9" y="69.29" width="4.2" height="4.2" fill="#ff00ff"/>
<line x1="508.35" y1="75.65" x2="508.35" y2="78.82" stroke="#ff22ff" stroke-width="0.75"/>
<line x1="506.75" y1="75.65" x2="509.95" y2="75.65" stroke="#ff22ff" stroke-width="0.75"/>
<line x1="506.75" y1="78.82" x2="509.95" y2="78.82" stroke="#ff22ff" stroke-width="0.75"/>
<rect x="506.25" y="75.14" width="4.2" height="4.2" fill="#ff00ff"/>
<line x1="525.7" y1="84.41" x2="525.7" y2="87.58" stroke="#ff22ff" stroke-width="0.75"/>
<line x1="524.1" y1="84.41" x2="527.3" y2="84.41" stroke="#ff22ff" stroke-width="0.75"/>
<line x1="524.1" y1="87.58" x2="527.3" y2="87.58" stroke="#ff22ff" stroke-width="0.75"/>
<rect x="523.6" y="83.9" width="4.2" height="4.2" fill="#ff00ff"/>
<line x1="543.05" y1="96.58" x2="543.05" y2="99.75" stroke="#ff22ff" stroke-width="0.75"/>
<line x1="541.45" y1="96.58" x2="544.65" y2="96.58" stroke="#ff22ff" stroke-width="0.75"/>
<line x1="541.45" y1="99.75" x2="544.65" y2="99.75" stroke="#ff22ff" stroke-width="0.75"/>
<rect x="540.95" y="96.07" width="4.2" height="4.2" fill="#ff00ff"/>
<line x1="560.4" y1="112.89" x2="560.4" y2="116.06" stroke="#ff22ff" stroke-width="0.75"/>
<line x1="558.8" y1="112.89" x2="562" y2="112.89" stroke="#ff22ff" stroke-width="0.75"/>
<line x1="558.8" y1="116.06" x2="562" y2="116.06" stroke="#ff22ff" stroke-width="0.75"/>
<rect x="558.3" y="112.38" width="4.2" height="4.2" fill="#ff00ff"/>
<line x1="577.75" y1="129.32" x2="577.75" y2="135.66" stroke="#ff22ff" stroke-width="0.75"/>
<line x1="576.15" y1="129.32" x2="579.35" y2="129.32" stroke="#ff22ff" stroke-width="0.75"/>
<line x1="576.15" y1="135.66" x2="579.35" y2="135.66" stroke="#ff22ff" stroke-width="0.75"/>
<rect x="575.65" y="130.39" width="4.2" height="4.2" fill="#ff00ff"/>
<line x1="595.1" y1="147.08" x2="595.1" y2="153.43" stroke="#ff22ff" stroke-width="0.75"/>
<line x1="593.5" y1="147.08" x2="596.7" y2="147.08" stroke="#ff22ff" stroke-width="0.75"/>
<line x1="593.5" y1="153.43" x2="596.7" y2="153.43" stroke="#ff22ff" stroke-width="0.75"/>
<rect x="593" y="148.16" width="4.2" height="4.2" fill="#ff00ff"/>
<line x1="612.45" y1="163.63" x2="612.45" y2="169.98" stroke="#ff22ff" stroke-width="0.75"/>
<line x1="610.85" y1="163.63" x2="614.05" y2="163.63" stroke="#ff22ff" stroke-width="0.75"/>
<line x1="610.85" y1="169.98" x2="614.05" y2="169.98" stroke="#ff22ff" stroke-width="0.75"/>
<rect x="610.35" y="164.71" width="4.2" height="4.2" fill="#ff00ff"/>
<line x1="629.8" y1="178.73" x2="629.8" y2="185.07" stroke="#ff22ff" stroke-width="0.75"/>
<line x1="628.2" y1="178.73" x2="631.4" y2="178.73" stroke="#ff22ff" stroke-width="0.75"/>
<line x1="628.2" y1="185.07" x2="631.4" y2="185.07" stroke="#ff22ff" stroke-width="0.75"/>
<rect x="627.7" y="179.8" width="4.2" height="4.2" fill="#ff00ff"/>
<line x1="404.25" y1="59.22" x2="404.25" y2="65.56" stroke="#22eeee" stroke-width="0.75"/>
<line x1="402.65" y1="59.22" x2="405.85" y2="59.22" stroke="#22eeee" stroke-width="0.75"/>
<line x1="402.65" y1="65.56" x2="405.85" y2="65.56" stroke="#22eeee" stroke-width="0.75"/>
<rect x="402.15" y="60.29" width="4.2" height="4.2" fill="#00ffff"/>
<line x1="421.6" y1="49.33" x2="421.6" y2="56.95" stroke="#22eeee" stroke-width="0.75"/>
<line x1="420" y1="49.33" x2="423.2" y2="49.33" stroke="#22eeee" stroke-width="0.75"/>
<line x1="420" y1="56.95" x2="423.2" y2="56.95" stroke="#22eeee" stroke-width="0.75"/>
<rect x="419.5" y="51.04" width="4.2" height="4.2" fill="#00ffff"/>
<line x1="438.95" y1="38.89" x2="438.95" y2="48.4" stroke="#22eeee" stroke-width="0.75"/>
<line x1="437.35" y1="38.89" x2="440.55" y2="38.89" stroke="#22eeee" stroke-width="0.75"/>
<line x1="437.35" y1="48.4" x2="440.55" y2="48.4" stroke="#22eeee" stroke-width="0.75"/>
<rect x="436.85" y="41.55" width="4.2" height="4.2" fill="#00ffff"/>
<line x1="456.3" y1="32.32" x2="456.3" y2="41.83" stroke="#22eeee" stroke-width="0.75"/>
<line x1="454.7" y1="32.32" x2="457.9" y2="32.32" stroke="#22eeee" stroke-width="0.75"/>
<line x1="454.7" y1="41.83" x2="457.9" y2="41.83" stroke="#22eeee" stroke-width="0.75"/>
<rect x="454.2" y="34.97" width="4.2" height="4.2" fill="#00ffff"/>
<line x1="473.65" y1="26.25" x2="473.65" y2="37.67" stroke="#22eeee" stroke-width="0.75"/>
<line x1="472.05" y1="26.25" x2="475.25" y2="26.25" stroke="#22eeee" stroke-width="0.75"/>
<line x1="472.05" y1="37.67" x2="475.25" y2="37.67" stroke="#22eeee" stroke-width="0.75"/>
<rect x="471.55" y="29.86" width="4.2" height="4.2" fill="#00ffff"/>
<line x1="491" y1="22.85" x2="491" y2="34.27" stroke="#22eeee" stroke-width="0.75"/>
<line x1="489.4" y1="22.85" x2="492.6" y2="22.85" stroke="#22eeee" stroke-width="0.75"/>
<line x1="489.4" y1="34.27" x2="492.6" y2="34.27" stroke="#22eeee" stroke-width="0.75"/>
<rect x="488.9" y="26.46" width="4.2" height="4.2" fill="#00ffff"/>
<line x1="508.35" y1="26.55" x2="508.35" y2="35.43" stroke="#22eeee" stroke-width="0.75"/>
<line x1="506.75" y1="26.55" x2="509.95" y2="26.55" stroke="#22eeee" stroke-width="0.75"/>
<line x1="506.75" y1="35.43" x2="509.95" y2="35.43" stroke="#22eeee" stroke-width="0.75"/>
<rect x="506.25" y="28.89" width="4.2" height="4.2" fill="#00ffff"/>
<line x1="525.7" y1="33.27" x2="525.7" y2="40.88" stroke="#22eeee" stroke-width="0.75"/>
<line x1="524.1" y1="33.27" x2="527.3" y2="33.27" stroke="#22eeee" stroke-width="0.75"/>
<line x1="524.1" y1="40.88" x2="527.3" y2="40.88" stroke="#22eeee" stroke-width="0.75"/>
<rect x="523.6" y="34.97" width="4.2" height="4.2" fill="#00ffff"/>
<line x1="543.05" y1="45" x2="543.05" y2="50.08" stroke="#22eeee" stroke-width="0.75"/>
<line x1="541.45" y1="45" x2="544.65" y2="45" stroke="#22eeee" stroke-width="0.75"/>
<line x1="541.45" y1="50.08" x2="544.65" y2="50.08" stroke="#22eeee" stroke-width="0.75"/>
<rect x="540.95" y="45.44" width="4.2" height="4.2" fill="#00ffff"/>
<line x1="560.4" y1="62.92" x2="560.4" y2="66.73" stroke="#22eeee" stroke-width="0.75"/>
<line x1="558.8" y1="62.92" x2="562" y2="62.92" stroke="#22eeee" stroke-width="0.75"/>
<line x1="558.8" y1="66.73" x2="562" y2="66.73" stroke="#22eeee" stroke-width="0.75"/>
<rect x="558.3" y="62.72" width="4.2" height="4.2" fill="#00ffff"/>
<line x1="577.75" y1="84.83" x2="577.75" y2="88.63" stroke="#22eeee" stroke-width="0.75"/>
<line x1="576.15" y1="84.83" x2="579.35" y2="84.83" stroke="#22eeee" stroke-width="0.75"/>
<line x1="576.15" y1="88.63" x2="579.35" y2="88.63" stroke="#22eeee" stroke-width="0.75"/>
<rect x="575.65" y="84.63" width="4.2" height="4.2" fill="#00ffff"/>
<line x1="595.1" y1="110.14" x2="595.1" y2="113.94" stroke="#22eeee" stroke-width="0.75"/>
<line x1="593.5" y1="110.14" x2="596.7" y2="110.14" stroke="#22eeee" stroke-width="0.75"/>
<line x1="593.5" y1="113.94" x2="596.7" y2="113.94" stroke="#22eeee" stroke-width="0.75"/>
<rect x="593" y="109.94" width="4.2" height="4.2" fill="#00ffff"/>
<line x1="612.45" y1="134.57" x2="612.45" y2="139.65" stroke="#22eeee" stroke-width="0.75"/>
<line x1="610.85" y1="134.57" x2="614.05" y2="134.57" stroke="#22eeee" stroke-width="0.75"/>
<line x1="610.85" y1="139.65" x2="614.05" y2="139.65" stroke="#22eeee" stroke-width="0.75"/>
<rect x="610.35" y="135.01" width="4.2" height="4.2" fill="#00ffff"/>
<line x1="629.8" y1="158.67" x2="629.8" y2="163.75" stroke="#22eeee" stroke-width="0.75"/>
<line x1="628.2" y1="158.67" x2="631.4" y2="158.67" stroke="#22eeee" stroke-width="0.75"/>
<line x1="628.2" y1="163.75" x2="631.4" y2="163.75" stroke="#22eeee" stroke-width="0.75"/>
<rect x="627.7" y="159.11" width="4.2" height="4.2" fill="#00ffff"/>
<line x1="404.25" y1="59.56" x2="404.25" y2="67.17" stroke="#22ee22" stroke-width="0.75"/>
<line x1="402.65" y1="59.56" x2="405.85" y2="59.56" stroke="#22ee22" stroke-width="0.75"/>
<line x1="402.65" y1="67.17" x2="405.85" y2="67.17" stroke="#22ee22" stroke-width="0.75"/>
<rect x="402.15" y="61.26" width="4.2" height="4.2" fill="#00ff00"/>
<line x1="421.6" y1="46.85" x2="421.6" y2="57" stroke="#22ee22" stroke-width="0.75"/>
<line x1="420" y1="46.85" x2="423.2" y2="46.85" stroke="#22ee22" stroke-width="0.75"/>
<line x1="420" y1="57" x2="423.2" y2="57" stroke="#22ee22" stroke-width="0.75"/>
<rect x="419.5" y="49.82" width="4.2" height="4.2" fill="#00ff00"/>
<line x1="438.95" y1="36.96" x2="438.95" y2="48.38" stroke="#22ee22" stroke-width="0.75"/>
<line x1="437.35" y1="36.96" x2="440.55" y2="36.96" stroke="#22ee22" stroke-width="0.75"/>
<line x1="437.35" y1="48.38" x2="440.55" y2="48.38" stroke="#22ee22" stroke-width="0.75"/>
<rect x="436.85" y="40.57" width="4.2" height="4.2" fill="#00ff00"/>
<line x1="456.3" y1="31.36" x2="456.3" y2="42.78" stroke="#22ee22" stroke-width="0.75"/>
<line x1="454.7" y1="31.36" x2="457.9" y2="31.36" stroke="#22ee22" stroke-width="0.75"/>
<line x1="454.7" y1="42.78" x2="457.9" y2="42.78" stroke="#22ee22" stroke-width="0.75"/>
<rect x="454.2" y="34.97" width="4.2" height="4.2" fill="#00ff00"/>
<line x1="473.65" y1="27.96" x2="473.65" y2="39.38" stroke="#22ee22" stroke-width="0.75"/>
<line x1="472.05" y1="27.96" x2="475.25" y2="27.96" stroke="#22ee22" stroke-width="0.75"/>
<line x1="472.05" y1="39.38" x2="475.25" y2="39.38" stroke="#22ee22" stroke-width="0.75"/>
<rect x="471.55" y="31.57" width="4.2" height="4.2" fill="#00ff00"/>
<line x1="491" y1="32.29" x2="491" y2="39.91" stroke="#22ee22" stroke-width="0.75"/>
<line x1="489.4" y1="32.29" x2="492.6" y2="32.29" stroke="#22ee22" stroke-width="0.75"/>
<line x1="489.4" y1="39.91" x2="492.6" y2="39.91" stroke="#22ee22" stroke-width="0.75"/>
<rect x="488.9" y="34" width="4.2" height="4.2" fill="#00ff00"/>
<line x1="508.35" y1="42.33" x2="508.35" y2="47.4" stroke="#22ee22" stroke-width="0.75"/>
<line x1="506.75" y1="42.33" x2="509.95" y2="42.33" stroke="#22ee22" stroke-width="0.75"/>
<line x1="506.75" y1="47.4" x2="509.95" y2="47.4" stroke="#22ee22" stroke-width="0.75"/>
<rect x="506.25" y="42.76" width="4.2" height="4.2" fill="#00ff00"/>
<line x1="525.7" y1="57.81" x2="525.7" y2="61.61" stroke="#22ee22" stroke-width="0.75"/>
<line x1="524.1" y1="57.81" x2="527.3" y2="57.81" stroke="#22ee22" stroke-width="0.75"/>
<line x1="524.1" y1="61.61" x2="527.3" y2="61.61" stroke="#22ee22" stroke-width="0.75"/>
<rect x="523.6" y="57.61" width="4.2" height="4.2" fill="#00ff00"/>
<line x1="543.05" y1="78.25" x2="543.05" y2="82.06" stroke="#22ee22" stroke-width="0.75"/>
<line x1="541.45" y1="78.25" x2="544.65" y2="78.25" stroke="#22ee22" stroke-width="0.75"/>
<line x1="541.45" y1="82.06" x2="544.65" y2="82.06" stroke="#22ee22" stroke-width="0.75"/>
<rect x="540.95" y="78.06" width="4.2" height="4.2" fill="#00ff00"/>
<line x1="560.4" y1="102.35" x2="560.4" y2="106.16" stroke="#22ee22" stroke-width="0.75"/>
<line x1="558.8" y1="102.35" x2="562" y2="102.35" stroke="#22ee22" stroke-width="0.75"/>
<line x1="558.8" y1="106.16" x2="562" y2="106.16" stroke="#22ee22" stroke-width="0.75"/>
<rect x="558.3" y="102.15" width="4.2" height="4.2" fill="#00ff00"/>
<line x1="577.75" y1="126.79" x2="577.75" y2="131.86" stroke="#22ee22" stroke-width="0.75"/>
<line x1="576.15" y1="126.79" x2="579.35" y2="126.79" stroke="#22ee22" stroke-width="0.75"/>
<line x1="576.15" y1="131.86" x2="579.35" y2="131.86" stroke="#22ee22" stroke-width="0.75"/>
<rect x="575.65" y="127.22" width="4.2" height="4.2" fill="#00ff00"/>
<line x1="595.1" y1="150.98" x2="595.1" y2="157.32" stroke="#22ee22" stroke-width="0.75"/>
<line x1="593.5" y1="150.98" x2="596.7" y2="150.98" stroke="#22ee22" stroke-width="0.75"/>
<line x1="593.5" y1="157.32" x2="596.7" y2="157.32" stroke="#22ee22" stroke-width="0.75"/>
<rect x="593" y="152.05" width="4.2" height="4.2" fill="#00ff00"/>
<line x1="612.45" y1="168.84" x2="612.45" y2="176.45" stroke="#22ee22" stroke-width="0.75"/>
<line x1="610.85" y1="168.84" x2="614.05" y2="168.84" stroke="#22ee22" stroke-width="0.75"/>
<line x1="610.85" y1="176.45" x2="614.05" y2="176.45" stroke="#22ee22" stroke-width="0.75"/>
<rect x="610.35" y="170.55" width="4.2" height="4.2" fill="#00ff00"/>
<line x1="629.8" y1="190.65" x2="629.8" y2="197" stroke="#22ee22" stroke-width="0.75"/>
<line x1="628.2" y1="190.65" x2="631.4" y2="190.65" stroke="#22ee22" stroke-width="0.75"/>
<line x1="628.2" y1="197" x2="631.4" y2="197" stroke="#22ee22" stroke-width="0.75"/>
<rect x="627.7" y="191.72" width="4.2" height="4.2" fill="#00ff00"/>
<line x1="404.25" y1="62.48" x2="404.25" y2="70.09" stroke="#222222" stroke-width="0.75"/>
<line x1="402.65" y1="62.48" x2="405.85" y2="62.48" stroke="#222222" stroke-width="0.75"/>
<line x1="402.65" y1="70.09" x2="405.85" y2="70.09" stroke="#222222" stroke-width="0.75"/>
<rect x="402.15" y="64.18" width="4.2" height="4.2" fill="#000000"/>
<line x1="421.6" y1="50.4" x2="421.6" y2="59.28" stroke="#222222" stroke-width="0.75"/>
<line x1="420" y1="50.4" x2="423.2" y2="50.4" stroke="#222222" stroke-width="0.75"/>
<line x1="420" y1="59.28" x2="423.2" y2="59.28" stroke="#222222" stroke-width="0.75"/>
<rect x="419.5" y="52.74" width="4.2" height="4.2" fill="#000000"/>
<line x1="438.95" y1="40.76" x2="438.95" y2="50.91" stroke="#222222" stroke-width="0.75"/>
<line x1="437.35" y1="40.76" x2="440.55" y2="40.76" stroke="#222222" stroke-width="0.75"/>
<line x1="437.35" y1="50.91" x2="440.55" y2="50.91" stroke="#222222" stroke-width="0.75"/>
<rect x="436.85" y="43.74" width="4.2" height="4.2" fill="#000000"/>
<line x1="456.3" y1="34.77" x2="456.3" y2="46.19" stroke="#222222" stroke-width="0.75"/>
<line x1="454.7" y1="34.77" x2="457.9" y2="34.77" stroke="#222222" stroke-width="0.75"/>
<line x1="454.7" y1="46.19" x2="457.9" y2="46.19" stroke="#222222" stroke-width="0.75"/>
<rect x="454.2" y="38.38" width="4.2" height="4.2" fill="#000000"/>
<line x1="473.65" y1="32.1" x2="473.65" y2="43.51" stroke="#222222" stroke-width="0.75"/>
<line x1="472.05" y1="32.1" x2="475.25" y2="32.1" stroke="#222222" stroke-width="0.75"/>
<line x1="472.05" y1="43.51" x2="475.25" y2="43.51" stroke="#222222" stroke-width="0.75"/>
<rect x="471.55" y="35.7" width="4.2" height="4.2" fill="#000000"/>
<line x1="491" y1="36.87" x2="491" y2="47.02" stroke="#222222" stroke-width="0.75"/>
<line x1="489.4" y1="36.87" x2="492.6" y2="36.87" stroke="#222222" stroke-width="0.75"/>
<line x1="489.4" y1="47.02" x2="492.6" y2="47.02" stroke="#222222" stroke-width="0.75"/>
<rect x="488.9" y="39.84" width="4.2" height="4.2" fill="#000000"/>
<line x1="508.35" y1="48.75" x2="508.35" y2="55.09" stroke="#222222" stroke-width="0.75"/>
<line x1="506.75" y1="48.75" x2="509.95" y2="48.75" stroke="#222222" stroke-width="0.75"/>
<line x1="506.75" y1="55.09" x2="509.95" y2="55.09" stroke="#222222" stroke-width="0.75"/>
<rect x="506.25" y="49.82" width="4.2" height="4.2" fill="#000000"/>
<line x1="525.7" y1="66.33" x2="525.7" y2="70.13" stroke="#222222" stroke-width="0.75"/>
<line x1="524.1" y1="66.33" x2="527.3" y2="66.33" stroke="#222222" stroke-width="0.75"/>
<line x1="524.1" y1="70.13" x2="527.3" y2="70.13" stroke="#222222" stroke-width="0.75"/>
<rect x="523.6" y="66.13" width="4.2" height="4.2" fill="#000000"/>
<line x1="543.05" y1="87.02" x2="543.05" y2="90.82" stroke="#222222" stroke-width="0.75"/>
<line x1="541.45" y1="87.02" x2="544.65" y2="87.02" stroke="#222222" stroke-width="0.75"/>
<line x1="541.45" y1="90.82" x2="544.65" y2="90.82" stroke="#222222" stroke-width="0.75"/>
<rect x="540.95" y="86.82" width="4.2" height="4.2" fill="#000000"/>
<line x1="560.4" y1="109.26" x2="560.4" y2="114.34" stroke="#222222" stroke-width="0.75"/>
<line x1="558.8" y1="109.26" x2="562" y2="109.26" stroke="#222222" stroke-width="0.75"/>
<line x1="558.8" y1="114.34" x2="562" y2="114.34" stroke="#222222" stroke-width="0.75"/>
<rect x="558.3" y="109.7" width="4.2" height="4.2" fill="#000000"/>
<line x1="577.75" y1="132.72" x2="577.75" y2="139.07" stroke="#222222" stroke-width="0.75"/>
<line x1="576.15" y1="132.72" x2="579.35" y2="132.72" stroke="#222222" stroke-width="0.75"/>
<line x1="576.15" y1="139.07" x2="579.35" y2="139.07" stroke="#222222" stroke-width="0.75"/>
<rect x="575.65" y="133.8" width="4.2" height="4.2" fill="#000000"/>
<line x1="595.1" y1="153.99" x2="595.1" y2="161.61" stroke="#222222" stroke-width="0.75"/>
<line x1="593.5" y1="153.99" x2="596.7" y2="153.99" stroke="#222222" stroke-width="0.75"/>
<line x1="593.5" y1="161.61" x2="596.7" y2="161.61" stroke="#222222" stroke-width="0.75"/>
<rect x="593" y="155.7" width="4.2" height="4.2" fill="#000000"/>
<line x1="612.45" y1="172.1" x2="612.45" y2="180.98" stroke="#222222" stroke-width="0.75"/>
<line x1="610.85" y1="172.1" x2="614.05" y2="172.1" stroke="#222222" stroke-width="0.75"/>
<line x1="610.85" y1="180.98" x2="614.05" y2="180.98" stroke="#222222" stroke-width="0.75"/>
<rect x="610.35" y="174.44" width="4.2" height="4.2" fill="#000000"/>
<line x1="629.8" y1="187.83" x2="629.8" y2="195.44" stroke="#222222" stroke-width="0.75"/>
<line x1="628.2" y1="187.83" x2="631.4" y2="187.83" stroke="#222222" stroke-width="0.75"/>
<line x1="628.2" y1="195.44" x2="631.4" y2="195.44" stroke="#222222" stroke-width="0.75"/>
<rect x="627.7" y="189.53" width="4.2" height="4.2" fill="#000000"/>
<rect x="369.55" y="8.1" width="281.95" height="206.9" fill="none" stroke="#303030" stroke-width="1.35"/>
<path d="M369.55 215v4.2M412.93 215v4.2M412.93 8.1v4.2M456.3 215v4.2M456.3 8.1v4.2M499.68 215v4.2M499.68 8.1v4.2M543.05 215v4.2M543.05 8.1v4.2M586.42 215v4.2M586.42 8.1v4.2M629.8 215v4.2M629.8 8.1v4.2M391.24 215v2.2M391.24 8.1v2.2M434.61 215v2.2M434.61 8.1v2.2M477.99 215v2.2M477.99 8.1v2.2M521.36 215v2.2M521.36 8.1v2.2M564.74 215v2.2M564.74 8.1v2.2M608.11 215v2.2M608.11 8.1v2.2M651.49 215v2.2M651.49 8.1v2.2M369.55 215h-4.2M369.55 190.66h-4.2M651.5 190.66h-4.2M369.55 166.32h-4.2M651.5 166.32h-4.2M369.55 141.98h-4.2M651.5 141.98h-4.2M369.55 117.64h-4.2M651.5 117.64h-4.2M369.55 93.3h-4.2M651.5 93.3h-4.2M369.55 68.96h-4.2M651.5 68.96h-4.2M369.55 44.62h-4.2M651.5 44.62h-4.2M369.55 20.28h-4.2M651.5 20.28h-4.2M369.55 202.83h-2.2M651.5 202.83h-2.2M369.55 178.49h-2.2M651.5 178.49h-2.2M369.55 154.15h-2.2M651.5 154.15h-2.2M369.55 129.81h-2.2M651.5 129.81h-2.2M369.55 105.47h-2.2M651.5 105.47h-2.2M369.55 81.13h-2.2M651.5 81.13h-2.2M369.55 56.79h-2.2M651.5 56.79h-2.2M369.55 32.45h-2.2M651.5 32.45h-2.2M369.55 8.11h-2.2M651.5 8.11h-2.2" fill="none" stroke="#303030" stroke-width="1.2"/>
<text x="655.8" y="218" font-size="9.2" text-anchor="start" fill="#333" textLength="11.56" lengthAdjust="spacingAndGlyphs">-50</text>
<text x="655.8" y="193.66" font-size="9.2" text-anchor="start" fill="#333" textLength="11.56" lengthAdjust="spacingAndGlyphs">-40</text>
<text x="655.8" y="169.32" font-size="9.2" text-anchor="start" fill="#333" textLength="11.56" lengthAdjust="spacingAndGlyphs">-30</text>
<text x="655.8" y="144.98" font-size="9.2" text-anchor="start" fill="#333" textLength="11.56" lengthAdjust="spacingAndGlyphs">-20</text>
<text x="655.8" y="120.64" font-size="9.2" text-anchor="start" fill="#333" textLength="11.56" lengthAdjust="spacingAndGlyphs">-10</text>
<text x="655.8" y="96.3" font-size="9.2" text-anchor="start" fill="#333" textLength="4.45" lengthAdjust="spacingAndGlyphs">0</text>
<text x="655.8" y="71.96" font-size="9.2" text-anchor="start" fill="#333" textLength="8.9" lengthAdjust="spacingAndGlyphs">10</text>
<text x="655.8" y="47.62" font-size="9.2" text-anchor="start" fill="#333" textLength="8.9" lengthAdjust="spacingAndGlyphs">20</text>
<text x="655.8" y="23.28" font-size="9.2" text-anchor="start" fill="#333" textLength="8.9" lengthAdjust="spacingAndGlyphs">30</text>
<text x="369.55" y="228.7" font-size="9.2" text-anchor="middle" fill="#333" textLength="4.45" lengthAdjust="spacingAndGlyphs">0</text>
<text x="412.93" y="228.7" font-size="9.2" text-anchor="middle" fill="#333" textLength="8.9" lengthAdjust="spacingAndGlyphs">50</text>
<text x="456.3" y="228.7" font-size="9.2" text-anchor="middle" fill="#333" textLength="13.35" lengthAdjust="spacingAndGlyphs">100</text>
<text x="499.68" y="228.7" font-size="9.2" text-anchor="middle" fill="#333" textLength="13.35" lengthAdjust="spacingAndGlyphs">150</text>
<text x="543.05" y="228.7" font-size="9.2" text-anchor="middle" fill="#333" textLength="13.35" lengthAdjust="spacingAndGlyphs">200</text>
<text x="586.42" y="228.7" font-size="9.2" text-anchor="middle" fill="#333" textLength="13.35" lengthAdjust="spacingAndGlyphs">250</text>
<text x="629.8" y="228.7" font-size="9.2" text-anchor="middle" fill="#333" textLength="13.35" lengthAdjust="spacingAndGlyphs">300</text>
<clipPath id="cb"><rect x="340" y="230" width="345" height="14.8"/></clipPath>
<g clip-path="url(#cb)">
<text x="511" y="245.3" font-size="10.8" text-anchor="middle" fill="#222" textLength="75.2" lengthAdjust="spacingAndGlyphs">Temperature [K]</text>
</g>
<text transform="translate(680.6,111.4) rotate(-90)" font-size="10.8" text-anchor="middle" fill="#222" textLength="121.6" lengthAdjust="spacingAndGlyphs">Seebeck Coefficient [μV/K]</text>
<text x="346.5" y="13.1" font-size="16" text-anchor="start" fill="#111">b</text>
<text x="357.5" y="12.3" font-size="15.3" text-anchor="start" fill="#111">)</text>
<text x="528.6" y="27.1" font-size="14" text-anchor="start" fill="#222" textLength="113" lengthAdjust="spacingAndGlyphs">Surfactant, 40° C</text>
<rect x="373.4" y="137.3" width="59" height="74" fill="#fff" stroke="#999" stroke-width="1"/>
<text x="376.9" y="147" font-size="7.8" text-anchor="start" fill="#222" textLength="52.5" lengthAdjust="spacingAndGlyphs">~ Wire Diameter:</text>
<line x1="376.9" y1="148.2" x2="429.4" y2="148.2" stroke="#444" stroke-width="0.6"/>
<line x1="376.5" y1="153.2" x2="381.5" y2="153.2" stroke="#9933ff" stroke-width="1.1"/>
<line x1="387.7" y1="153.2" x2="392.8" y2="153.2" stroke="#9933ff" stroke-width="1.1"/>
<rect x="382.45" y="151.05" width="4.3" height="4.3" fill="#8000ff"/>
<text x="394.4" y="156" font-size="7.6" text-anchor="start" fill="#222" textLength="22.6" lengthAdjust="spacingAndGlyphs">400 nm</text>
<line x1="376.5" y1="161.65" x2="381.5" y2="161.65" stroke="#ff8c1a" stroke-width="1.1"/>
<line x1="387.7" y1="161.65" x2="392.8" y2="161.65" stroke="#ff8c1a" stroke-width="1.1"/>
<rect x="382.45" y="159.5" width="4.3" height="4.3" fill="#ff8000"/>
<text x="394.4" y="164.45" font-size="7.6" text-anchor="start" fill="#222" textLength="22.6" lengthAdjust="spacingAndGlyphs">300 nm</text>
<line x1="376.5" y1="170.1" x2="381.5" y2="170.1" stroke="#222222" stroke-width="1.1"/>
<line x1="387.7" y1="170.1" x2="392.8" y2="170.1" stroke="#222222" stroke-width="1.1"/>
<rect x="382.45" y="167.95" width="4.3" height="4.3" fill="#000000"/>
<text x="394.4" y="172.9" font-size="7.6" text-anchor="start" fill="#222" textLength="22.6" lengthAdjust="spacingAndGlyphs">140 nm</text>
<line x1="376.5" y1="178.55" x2="381.5" y2="178.55" stroke="#22ee22" stroke-width="1.1"/>
<line x1="387.7" y1="178.55" x2="392.8" y2="178.55" stroke="#22ee22" stroke-width="1.1"/>
<rect x="382.45" y="176.4" width="4.3" height="4.3" fill="#00ff00"/>
<text x="394.4" y="181.35" font-size="7.6" text-anchor="start" fill="#222" textLength="22.6" lengthAdjust="spacingAndGlyphs">100 nm</text>
<line x1="376.5" y1="187" x2="381.5" y2="187" stroke="#22eeee" stroke-width="1.1"/>
<line x1="387.7" y1="187" x2="392.8" y2="187" stroke="#22eeee" stroke-width="1.1"/>
<rect x="382.45" y="184.85" width="4.3" height="4.3" fill="#00ffff"/>
<text x="398.2" y="189.8" font-size="7.6" text-anchor="start" fill="#222" textLength="18.8" lengthAdjust="spacingAndGlyphs">60 nm</text>
<line x1="376.5" y1="195.45" x2="381.5" y2="195.45" stroke="#ff22ff" stroke-width="1.1"/>
<line x1="387.7" y1="195.45" x2="392.8" y2="195.45" stroke="#ff22ff" stroke-width="1.1"/>
<rect x="382.45" y="193.3" width="4.3" height="4.3" fill="#ff00ff"/>
<text x="398.2" y="198.25" font-size="7.6" text-anchor="start" fill="#222" textLength="18.8" lengthAdjust="spacingAndGlyphs">40 nm</text>
<line x1="376.5" y1="203.9" x2="381.5" y2="203.9" stroke="#118811" stroke-width="1.1"/>
<line x1="387.7" y1="203.9" x2="392.8" y2="203.9" stroke="#118811" stroke-width="1.1"/>
<rect x="382.45" y="201.75" width="4.3" height="4.3" fill="#008000"/>
<text x="398.2" y="206.7" font-size="7.6" text-anchor="start" fill="#222" textLength="18.8" lengthAdjust="spacingAndGlyphs">30 nm</text>
<line x1="32.9" y1="363.8" x2="314.7" y2="363.8" stroke="#6e6e6e" stroke-width="1.3"/>
<rect x="32.9" y="278.55" width="281.8" height="206.95" fill="none" stroke="#303030" stroke-width="1.35"/>
<path d="M32.9 485.5v4.2M58.52 485.5v4.2M58.52 278.55v4.2M84.14 485.5v4.2M84.14 278.55v4.2M109.76 485.5v4.2M109.76 278.55v4.2M135.38 485.5v4.2M135.38 278.55v4.2M161 485.5v4.2M161 278.55v4.2M186.62 485.5v4.2M186.62 278.55v4.2M212.24 485.5v4.2M212.24 278.55v4.2M237.86 485.5v4.2M237.86 278.55v4.2M263.48 485.5v4.2M263.48 278.55v4.2M289.1 485.5v4.2M289.1 278.55v4.2M314.72 485.5v4.2M45.71 485.5v2.2M45.71 278.55v2.2M71.33 485.5v2.2M71.33 278.55v2.2M96.95 485.5v2.2M96.95 278.55v2.2M122.57 485.5v2.2M122.57 278.55v2.2M148.19 485.5v2.2M148.19 278.55v2.2M173.81 485.5v2.2M173.81 278.55v2.2M199.43 485.5v2.2M199.43 278.55v2.2M225.05 485.5v2.2M225.05 278.55v2.2M250.67 485.5v2.2M250.67 278.55v2.2M276.29 485.5v2.2M276.29 278.55v2.2M301.91 485.5v2.2M301.91 278.55v2.2M32.9 485.54h-4.2M32.9 461.19h-4.2M314.7 461.19h-4.2M32.9 436.84h-4.2M314.7 436.84h-4.2M32.9 412.49h-4.2M314.7 412.49h-4.2M32.9 388.15h-4.2M314.7 388.15h-4.2M32.9 363.8h-4.2M314.7 363.8h-4.2M32.9 339.45h-4.2M314.7 339.45h-4.2M32.9 315.11h-4.2M314.7 315.11h-4.2M32.9 290.76h-4.2M314.7 290.76h-4.2M32.9 473.36h-2.2M314.7 473.36h-2.2M32.9 449.01h-2.2M314.7 449.01h-2.2M32.9 424.67h-2.2M314.7 424.67h-2.2M32.9 400.32h-2.2M314.7 400.32h-2.2M32.9 375.97h-2.2M314.7 375.97h-2.2M32.9 351.63h-2.2M314.7 351.63h-2.2M32.9 327.28h-2.2M314.7 327.28h-2.2M32.9 302.93h-2.2M314.7 302.93h-2.2M32.9 278.59h-2.2M314.7 278.59h-2.2" fill="none" stroke="#303030" stroke-width="1.2"/>
<text x="26.2" y="488.54" font-size="9.2" text-anchor="end" fill="#333" textLength="11.56" lengthAdjust="spacingAndGlyphs">-50</text>
<text x="26.2" y="464.19" font-size="9.2" text-anchor="end" fill="#333" textLength="11.56" lengthAdjust="spacingAndGlyphs">-40</text>
<text x="26.2" y="439.84" font-size="9.2" text-anchor="end" fill="#333" textLength="11.56" lengthAdjust="spacingAndGlyphs">-30</text>
<text x="26.2" y="415.49" font-size="9.2" text-anchor="end" fill="#333" textLength="11.56" lengthAdjust="spacingAndGlyphs">-20</text>
<text x="26.2" y="391.15" font-size="9.2" text-anchor="end" fill="#333" textLength="11.56" lengthAdjust="spacingAndGlyphs">-10</text>
<text x="26.2" y="366.8" font-size="9.2" text-anchor="end" fill="#333" textLength="4.45" lengthAdjust="spacingAndGlyphs">0</text>
<text x="26.2" y="342.45" font-size="9.2" text-anchor="end" fill="#333" textLength="8.9" lengthAdjust="spacingAndGlyphs">10</text>
<text x="26.2" y="318.11" font-size="9.2" text-anchor="end" fill="#333" textLength="8.9" lengthAdjust="spacingAndGlyphs">20</text>
<text x="26.2" y="293.76" font-size="9.2" text-anchor="end" fill="#333" textLength="8.9" lengthAdjust="spacingAndGlyphs">30</text>
<text x="32.9" y="499" font-size="9.2" text-anchor="middle" fill="#333" textLength="4.45" lengthAdjust="spacingAndGlyphs">0</text>
<text x="58.52" y="499" font-size="9.2" text-anchor="middle" fill="#333" textLength="8.9" lengthAdjust="spacingAndGlyphs">40</text>
<text x="84.14" y="499" font-size="9.2" text-anchor="middle" fill="#333" textLength="8.9" lengthAdjust="spacingAndGlyphs">80</text>
<text x="109.76" y="499" font-size="9.2" text-anchor="middle" fill="#333" textLength="13.35" lengthAdjust="spacingAndGlyphs">120</text>
<text x="135.38" y="499" font-size="9.2" text-anchor="middle" fill="#333" textLength="13.35" lengthAdjust="spacingAndGlyphs">160</text>
<text x="161" y="499" font-size="9.2" text-anchor="middle" fill="#333" textLength="13.35" lengthAdjust="spacingAndGlyphs">200</text>
<text x="186.62" y="499" font-size="9.2" text-anchor="middle" fill="#333" textLength="13.35" lengthAdjust="spacingAndGlyphs">240</text>
<text x="212.24" y="499" font-size="9.2" text-anchor="middle" fill="#333" textLength="13.35" lengthAdjust="spacingAndGlyphs">280</text>
<text x="237.86" y="499" font-size="9.2" text-anchor="middle" fill="#333" textLength="13.35" lengthAdjust="spacingAndGlyphs">320</text>
<text x="263.48" y="499" font-size="9.2" text-anchor="middle" fill="#333" textLength="13.35" lengthAdjust="spacingAndGlyphs">360</text>
<text x="289.1" y="499" font-size="9.2" text-anchor="middle" fill="#333" textLength="13.35" lengthAdjust="spacingAndGlyphs">400</text>
<text x="314.72" y="499" font-size="9.2" text-anchor="middle" fill="#333" textLength="13.35" lengthAdjust="spacingAndGlyphs">440</text>
<text x="173.9" y="515.1" font-size="10.8" text-anchor="middle" fill="#222" textLength="89.3" lengthAdjust="spacingAndGlyphs">Wire Diameter [nm]</text>
<text transform="translate(10.0,380.3) rotate(-90)" font-size="10.8" text-anchor="middle" fill="#222" textLength="121.4" lengthAdjust="spacingAndGlyphs">Seebeck Coefficient [μV/K]</text>
<text x="0.6" y="283.1" font-size="16" text-anchor="start" fill="#111">c</text>
<text x="11" y="281.8" font-size="15.5" text-anchor="start" fill="#111">)</text>
<line x1="52.11" y1="430.03" x2="52.11" y2="432.46" stroke="#33ee33" stroke-width="0.8"/>
<line x1="50.51" y1="430.03" x2="53.71" y2="430.03" stroke="#33ee33" stroke-width="0.8"/>
<line x1="50.51" y1="432.46" x2="53.71" y2="432.46" stroke="#33ee33" stroke-width="0.8"/>
<line x1="58.52" y1="449.51" x2="58.52" y2="455.34" stroke="#33ee33" stroke-width="0.8"/>
<line x1="56.92" y1="449.51" x2="60.12" y2="449.51" stroke="#33ee33" stroke-width="0.8"/>
<line x1="56.92" y1="455.34" x2="60.12" y2="455.34" stroke="#33ee33" stroke-width="0.8"/>
<line x1="71.33" y1="429.78" x2="71.33" y2="433.67" stroke="#33ee33" stroke-width="0.8"/>
<line x1="69.73" y1="429.78" x2="72.93" y2="429.78" stroke="#33ee33" stroke-width="0.8"/>
<line x1="69.73" y1="433.67" x2="72.93" y2="433.67" stroke="#33ee33" stroke-width="0.8"/>
<line x1="93.74" y1="463.38" x2="100.15" y2="463.38" stroke="#33ee33" stroke-width="0.8"/>
<line x1="93.74" y1="461.78" x2="93.74" y2="464.98" stroke="#33ee33" stroke-width="0.8"/>
<line x1="100.15" y1="461.78" x2="100.15" y2="464.98" stroke="#33ee33" stroke-width="0.8"/>
<line x1="96.95" y1="460.46" x2="96.95" y2="466.3" stroke="#33ee33" stroke-width="0.8"/>
<line x1="95.35" y1="460.46" x2="98.55" y2="460.46" stroke="#33ee33" stroke-width="0.8"/>
<line x1="95.35" y1="466.3" x2="98.55" y2="466.3" stroke="#33ee33" stroke-width="0.8"/>
<line x1="118.08" y1="462.65" x2="127.06" y2="462.65" stroke="#33ee33" stroke-width="0.8"/>
<line x1="118.08" y1="461.05" x2="118.08" y2="464.25" stroke="#33ee33" stroke-width="0.8"/>
<line x1="127.06" y1="461.05" x2="127.06" y2="464.25" stroke="#33ee33" stroke-width="0.8"/>
<line x1="122.57" y1="460.22" x2="122.57" y2="465.08" stroke="#33ee33" stroke-width="0.8"/>
<line x1="120.97" y1="460.22" x2="124.17" y2="460.22" stroke="#33ee33" stroke-width="0.8"/>
<line x1="120.97" y1="465.08" x2="124.17" y2="465.08" stroke="#33ee33" stroke-width="0.8"/>
<line x1="215.43" y1="449.74" x2="234.66" y2="449.74" stroke="#33ee33" stroke-width="0.8"/>
<line x1="215.43" y1="448.14" x2="215.43" y2="451.34" stroke="#33ee33" stroke-width="0.8"/>
<line x1="234.66" y1="448.14" x2="234.66" y2="451.34" stroke="#33ee33" stroke-width="0.8"/>
<line x1="225.05" y1="447.8" x2="225.05" y2="451.69" stroke="#33ee33" stroke-width="0.8"/>
<line x1="223.45" y1="447.8" x2="226.65" y2="447.8" stroke="#33ee33" stroke-width="0.8"/>
<line x1="223.45" y1="451.69" x2="226.65" y2="451.69" stroke="#33ee33" stroke-width="0.8"/>
<line x1="276.28" y1="460.7" x2="301.92" y2="460.7" stroke="#33ee33" stroke-width="0.8"/>
<line x1="276.28" y1="459.1" x2="276.28" y2="462.3" stroke="#33ee33" stroke-width="0.8"/>
<line x1="301.92" y1="459.1" x2="301.92" y2="462.3" stroke="#33ee33" stroke-width="0.8"/>
<line x1="289.1" y1="457.79" x2="289.1" y2="463.62" stroke="#33ee33" stroke-width="0.8"/>
<line x1="287.5" y1="457.79" x2="290.7" y2="457.79" stroke="#33ee33" stroke-width="0.8"/>
<line x1="287.5" y1="463.62" x2="290.7" y2="463.62" stroke="#33ee33" stroke-width="0.8"/>
<path d="M52.11 428.09L55.26 433.49L48.96 433.49Z" fill="#00ff00"/>
<path d="M58.52 449.27L61.67 454.67L55.37 454.67Z" fill="#00ff00"/>
<path d="M71.33 428.58L74.48 433.98L68.18 433.98Z" fill="#00ff00"/>
<path d="M96.95 460.23L100.1 465.63L93.8 465.63Z" fill="#00ff00"/>
<path d="M122.57 459.5L125.72 464.9L119.42 464.9Z" fill="#00ff00"/>
<path d="M225.05 446.59L228.2 451.99L221.9 451.99Z" fill="#00ff00"/>
<path d="M289.1 457.55L292.25 462.95L285.95 462.95Z" fill="#00ff00"/>
<line x1="58.52" y1="443.91" x2="58.52" y2="448.77" stroke="#111" stroke-width="0.8"/>
<line x1="56.92" y1="443.91" x2="60.12" y2="443.91" stroke="#111" stroke-width="0.8"/>
<line x1="56.92" y1="448.77" x2="60.12" y2="448.77" stroke="#111" stroke-width="0.8"/>
<line x1="71.33" y1="462.65" x2="71.33" y2="468.97" stroke="#111" stroke-width="0.8"/>
<line x1="69.73" y1="462.65" x2="72.93" y2="462.65" stroke="#111" stroke-width="0.8"/>
<line x1="69.73" y1="468.97" x2="72.93" y2="468.97" stroke="#111" stroke-width="0.8"/>
<line x1="93.74" y1="473.36" x2="100.15" y2="473.36" stroke="#111" stroke-width="0.8"/>
<line x1="93.74" y1="471.76" x2="93.74" y2="474.96" stroke="#111" stroke-width="0.8"/>
<line x1="100.15" y1="471.76" x2="100.15" y2="474.96" stroke="#111" stroke-width="0.8"/>
<line x1="96.95" y1="469.72" x2="96.95" y2="477.01" stroke="#111" stroke-width="0.8"/>
<line x1="95.35" y1="469.72" x2="98.55" y2="469.72" stroke="#111" stroke-width="0.8"/>
<line x1="95.35" y1="477.01" x2="98.55" y2="477.01" stroke="#111" stroke-width="0.8"/>
<line x1="118.08" y1="478.96" x2="127.06" y2="478.96" stroke="#111" stroke-width="0.8"/>
<line x1="118.08" y1="477.36" x2="118.08" y2="480.56" stroke="#111" stroke-width="0.8"/>
<line x1="127.06" y1="477.36" x2="127.06" y2="480.56" stroke="#111" stroke-width="0.8"/>
<line x1="122.57" y1="475.32" x2="122.57" y2="482.61" stroke="#111" stroke-width="0.8"/>
<line x1="120.97" y1="475.32" x2="124.17" y2="475.32" stroke="#111" stroke-width="0.8"/>
<line x1="120.97" y1="482.61" x2="124.17" y2="482.61" stroke="#111" stroke-width="0.8"/>
<line x1="215.43" y1="429.29" x2="234.66" y2="429.29" stroke="#111" stroke-width="0.8"/>
<line x1="215.43" y1="427.69" x2="215.43" y2="430.89" stroke="#111" stroke-width="0.8"/>
<line x1="234.66" y1="427.69" x2="234.66" y2="430.89" stroke="#111" stroke-width="0.8"/>
<line x1="225.05" y1="427.84" x2="225.05" y2="430.75" stroke="#111" stroke-width="0.8"/>
<line x1="223.45" y1="427.84" x2="226.65" y2="427.84" stroke="#111" stroke-width="0.8"/>
<line x1="223.45" y1="430.75" x2="226.65" y2="430.75" stroke="#111" stroke-width="0.8"/>
<line x1="276.28" y1="412.49" x2="301.92" y2="412.49" stroke="#111" stroke-width="0.8"/>
<line x1="276.28" y1="410.89" x2="276.28" y2="414.09" stroke="#111" stroke-width="0.8"/>
<line x1="301.92" y1="410.89" x2="301.92" y2="414.09" stroke="#111" stroke-width="0.8"/>
<line x1="289.1" y1="411.52" x2="289.1" y2="413.47" stroke="#111" stroke-width="0.8"/>
<line x1="287.5" y1="411.52" x2="290.7" y2="411.52" stroke="#111" stroke-width="0.8"/>
<line x1="287.5" y1="413.47" x2="290.7" y2="413.47" stroke="#111" stroke-width="0.8"/>
<rect x="56.32" y="444.14" width="4.4" height="4.4" fill="#000000"/>
<rect x="69.13" y="463.61" width="4.4" height="4.4" fill="#000000"/>
<rect x="94.75" y="471.16" width="4.4" height="4.4" fill="#000000"/>
<rect x="120.37" y="476.76" width="4.4" height="4.4" fill="#000000"/>
<rect x="222.85" y="427.09" width="4.4" height="4.4" fill="#000000"/>
<rect x="286.9" y="410.29" width="4.4" height="4.4" fill="#000000"/>
<line x1="58.52" y1="344.81" x2="58.52" y2="349.67" stroke="#ff2222" stroke-width="0.8"/>
<line x1="56.92" y1="344.81" x2="60.12" y2="344.81" stroke="#ff2222" stroke-width="0.8"/>
<line x1="56.92" y1="349.67" x2="60.12" y2="349.67" stroke="#ff2222" stroke-width="0.8"/>
<line x1="71.33" y1="328.51" x2="71.33" y2="337.25" stroke="#ff2222" stroke-width="0.8"/>
<line x1="69.73" y1="328.51" x2="72.93" y2="328.51" stroke="#ff2222" stroke-width="0.8"/>
<line x1="69.73" y1="337.25" x2="72.93" y2="337.25" stroke="#ff2222" stroke-width="0.8"/>
<line x1="93.74" y1="329.96" x2="100.15" y2="329.96" stroke="#ff2222" stroke-width="0.8"/>
<line x1="93.74" y1="328.36" x2="93.74" y2="331.56" stroke="#ff2222" stroke-width="0.8"/>
<line x1="100.15" y1="328.36" x2="100.15" y2="331.56" stroke="#ff2222" stroke-width="0.8"/>
<line x1="96.95" y1="326.31" x2="96.95" y2="333.6" stroke="#ff2222" stroke-width="0.8"/>
<line x1="95.35" y1="326.31" x2="98.55" y2="326.31" stroke="#ff2222" stroke-width="0.8"/>
<line x1="95.35" y1="333.6" x2="98.55" y2="333.6" stroke="#ff2222" stroke-width="0.8"/>
<line x1="118.08" y1="341.89" x2="127.06" y2="341.89" stroke="#ff2222" stroke-width="0.8"/>
<line x1="118.08" y1="340.29" x2="118.08" y2="343.49" stroke="#ff2222" stroke-width="0.8"/>
<line x1="127.06" y1="340.29" x2="127.06" y2="343.49" stroke="#ff2222" stroke-width="0.8"/>
<line x1="122.57" y1="339.94" x2="122.57" y2="343.83" stroke="#ff2222" stroke-width="0.8"/>
<line x1="120.97" y1="339.94" x2="124.17" y2="339.94" stroke="#ff2222" stroke-width="0.8"/>
<line x1="120.97" y1="343.83" x2="124.17" y2="343.83" stroke="#ff2222" stroke-width="0.8"/>
<line x1="215.43" y1="356.5" x2="234.66" y2="356.5" stroke="#ff2222" stroke-width="0.8"/>
<line x1="215.43" y1="354.9" x2="215.43" y2="358.1" stroke="#ff2222" stroke-width="0.8"/>
<line x1="234.66" y1="354.9" x2="234.66" y2="358.1" stroke="#ff2222" stroke-width="0.8"/>
<line x1="225.05" y1="354.55" x2="225.05" y2="358.44" stroke="#ff2222" stroke-width="0.8"/>
<line x1="223.45" y1="354.55" x2="226.65" y2="354.55" stroke="#ff2222" stroke-width="0.8"/>
<line x1="223.45" y1="358.44" x2="226.65" y2="358.44" stroke="#ff2222" stroke-width="0.8"/>
<line x1="276.28" y1="370.37" x2="301.92" y2="370.37" stroke="#ff2222" stroke-width="0.8"/>
<line x1="276.28" y1="368.77" x2="276.28" y2="371.97" stroke="#ff2222" stroke-width="0.8"/>
<line x1="301.92" y1="368.77" x2="301.92" y2="371.97" stroke="#ff2222" stroke-width="0.8"/>
<circle cx="58.52" cy="347.24" r="2.6" fill="#ff0000"/>
<circle cx="71.33" cy="332.88" r="2.6" fill="#ff0000"/>
<circle cx="96.95" cy="329.96" r="2.6" fill="#ff0000"/>
<circle cx="122.57" cy="341.89" r="2.6" fill="#ff0000"/>
<circle cx="225.05" cy="356.5" r="2.6" fill="#ff0000"/>
<circle cx="289.1" cy="370.37" r="2.6" fill="#ff0000"/>
<line x1="58.52" y1="342.62" x2="58.52" y2="346.51" stroke="#2222ff" stroke-width="0.8"/>
<line x1="56.92" y1="342.62" x2="60.12" y2="342.62" stroke="#2222ff" stroke-width="0.8"/>
<line x1="56.92" y1="346.51" x2="60.12" y2="346.51" stroke="#2222ff" stroke-width="0.8"/>
<line x1="71.33" y1="317.79" x2="71.33" y2="328.49" stroke="#2222ff" stroke-width="0.8"/>
<line x1="69.73" y1="317.79" x2="72.93" y2="317.79" stroke="#2222ff" stroke-width="0.8"/>
<line x1="69.73" y1="328.49" x2="72.93" y2="328.49" stroke="#2222ff" stroke-width="0.8"/>
<line x1="93.74" y1="323.14" x2="100.15" y2="323.14" stroke="#2222ff" stroke-width="0.8"/>
<line x1="93.74" y1="321.54" x2="93.74" y2="324.74" stroke="#2222ff" stroke-width="0.8"/>
<line x1="100.15" y1="321.54" x2="100.15" y2="324.74" stroke="#2222ff" stroke-width="0.8"/>
<line x1="96.95" y1="318.28" x2="96.95" y2="328" stroke="#2222ff" stroke-width="0.8"/>
<line x1="95.35" y1="318.28" x2="98.55" y2="318.28" stroke="#2222ff" stroke-width="0.8"/>
<line x1="95.35" y1="328" x2="98.55" y2="328" stroke="#2222ff" stroke-width="0.8"/>
<line x1="118.08" y1="325.33" x2="127.06" y2="325.33" stroke="#2222ff" stroke-width="0.8"/>
<line x1="118.08" y1="323.73" x2="118.08" y2="326.93" stroke="#2222ff" stroke-width="0.8"/>
<line x1="127.06" y1="323.73" x2="127.06" y2="326.93" stroke="#2222ff" stroke-width="0.8"/>
<line x1="122.57" y1="320.96" x2="122.57" y2="329.71" stroke="#2222ff" stroke-width="0.8"/>
<line x1="120.97" y1="320.96" x2="124.17" y2="320.96" stroke="#2222ff" stroke-width="0.8"/>
<line x1="120.97" y1="329.71" x2="124.17" y2="329.71" stroke="#2222ff" stroke-width="0.8"/>
<line x1="215.43" y1="352.6" x2="234.66" y2="352.6" stroke="#2222ff" stroke-width="0.8"/>
<line x1="215.43" y1="351" x2="215.43" y2="354.2" stroke="#2222ff" stroke-width="0.8"/>
<line x1="234.66" y1="351" x2="234.66" y2="354.2" stroke="#2222ff" stroke-width="0.8"/>
<line x1="276.28" y1="363.56" x2="301.92" y2="363.56" stroke="#2222ff" stroke-width="0.8"/>
<line x1="276.28" y1="361.96" x2="276.28" y2="365.16" stroke="#2222ff" stroke-width="0.8"/>
<line x1="301.92" y1="361.96" x2="301.92" y2="365.16" stroke="#2222ff" stroke-width="0.8"/>
<path d="M52.11 353.78L55.31 356.98L52.11 360.18L48.91 356.98Z" fill="#0000ff"/>
<path d="M58.52 341.37L61.72 344.57L58.52 347.77L55.32 344.57Z" fill="#0000ff"/>
<path d="M71.33 319.94L74.53 323.14L71.33 326.34L68.13 323.14Z" fill="#0000ff"/>
<path d="M96.95 319.94L100.15 323.14L96.95 326.34L93.75 323.14Z" fill="#0000ff"/>
<path d="M122.57 322.13L125.77 325.33L122.57 328.53L119.37 325.33Z" fill="#0000ff"/>
<path d="M225.05 349.4L228.25 352.6L225.05 355.8L221.85 352.6Z" fill="#0000ff"/>
<path d="M289.1 360.36L292.3 363.56L289.1 366.76L285.9 363.56Z" fill="#0000ff"/>
<rect x="73.4" y="285.4" width="199.6" height="22.2" fill="#fff" stroke="#999" stroke-width="1"/>
<text x="77.4" y="293.8" font-size="8.2" text-anchor="start" fill="#222" textLength="116.4" lengthAdjust="spacingAndGlyphs">S at 300 K for samples grown at</text>
<text x="77.4" y="303.3" font-size="8.2" text-anchor="start" fill="#222">S at</text>
<text x="193.8" y="303.3" font-size="8.2" text-anchor="end" fill="#222">60 K for samples grown at</text>
<rect x="201.2" y="289.1" width="4.4" height="4.4" fill="#000000"/>
<path d="M239.7 288.15L242.85 293.55L236.55 293.55Z" fill="#00ff00"/>
<circle cx="203.4" cy="300.7" r="2.6" fill="#ff0000"/>
<path d="M239.7 297.5L242.9 300.7L239.7 303.9L236.5 300.7Z" fill="#0000ff"/>
<text x="212.6" y="293.8" font-size="8.2" text-anchor="start" fill="#222" textLength="17.9" lengthAdjust="spacingAndGlyphs">22°C</text>
<text x="248.9" y="293.8" font-size="8.2" text-anchor="start" fill="#222" textLength="18.4" lengthAdjust="spacingAndGlyphs">40°C</text>
<text x="212.6" y="303.3" font-size="8.2" text-anchor="start" fill="#222" textLength="17.9" lengthAdjust="spacingAndGlyphs">22°C</text>
<text x="248.9" y="303.3" font-size="8.2" text-anchor="start" fill="#222" textLength="18.4" lengthAdjust="spacingAndGlyphs">40°C</text>
<rect x="369.55" y="278.55" width="282.05" height="206.95" fill="none" stroke="#303030" stroke-width="1.35"/>
<path d="M369.55 485.5v4.2M395.19 485.5v4.2M395.19 278.55v4.2M420.83 485.5v4.2M420.83 278.55v4.2M446.47 485.5v4.2M446.47 278.55v4.2M472.11 485.5v4.2M472.11 278.55v4.2M497.75 485.5v4.2M497.75 278.55v4.2M523.39 485.5v4.2M523.39 278.55v4.2M549.03 485.5v4.2M549.03 278.55v4.2M574.67 485.5v4.2M574.67 278.55v4.2M600.31 485.5v4.2M600.31 278.55v4.2M625.95 485.5v4.2M625.95 278.55v4.2M651.59 485.5v4.2M382.37 485.5v2.2M382.37 278.55v2.2M408.01 485.5v2.2M408.01 278.55v2.2M433.65 485.5v2.2M433.65 278.55v2.2M459.29 485.5v2.2M459.29 278.55v2.2M484.93 485.5v2.2M484.93 278.55v2.2M510.57 485.5v2.2M510.57 278.55v2.2M536.21 485.5v2.2M536.21 278.55v2.2M561.85 485.5v2.2M561.85 278.55v2.2M587.49 485.5v2.2M587.49 278.55v2.2M613.13 485.5v2.2M613.13 278.55v2.2M638.77 485.5v2.2M638.77 278.55v2.2M369.55 485.5h-4.2M369.55 439.51h-4.2M651.6 439.51h-4.2M369.55 393.52h-4.2M651.6 393.52h-4.2M369.55 347.53h-4.2M651.6 347.53h-4.2M369.55 301.54h-4.2M651.6 301.54h-4.2M369.55 462.5h-2.2M651.6 462.5h-2.2M369.55 416.51h-2.2M651.6 416.51h-2.2M369.55 370.52h-2.2M651.6 370.52h-2.2M369.55 324.53h-2.2M651.6 324.53h-2.2M369.55 278.55h-2.2M651.6 278.55h-2.2" fill="none" stroke="#303030" stroke-width="1.2"/>
<text x="656" y="488.5" font-size="9.2" text-anchor="start" fill="#333" textLength="8.9" lengthAdjust="spacingAndGlyphs">50</text>
<text x="656" y="442.51" font-size="9.2" text-anchor="start" fill="#333" textLength="13.35" lengthAdjust="spacingAndGlyphs">100</text>
<text x="656" y="396.52" font-size="9.2" text-anchor="start" fill="#333" textLength="13.35" lengthAdjust="spacingAndGlyphs">150</text>
<text x="656" y="350.53" font-size="9.2" text-anchor="start" fill="#333" textLength="13.35" lengthAdjust="spacingAndGlyphs">200</text>
<text x="656" y="304.54" font-size="9.2" text-anchor="start" fill="#333" textLength="13.35" lengthAdjust="spacingAndGlyphs">250</text>
<text x="369.55" y="499" font-size="9.2" text-anchor="middle" fill="#333" textLength="4.45" lengthAdjust="spacingAndGlyphs">0</text>
<text x="395.19" y="499" font-size="9.2" text-anchor="middle" fill="#333" textLength="8.9" lengthAdjust="spacingAndGlyphs">40</text>
<text x="420.83" y="499" font-size="9.2" text-anchor="middle" fill="#333" textLength="8.9" lengthAdjust="spacingAndGlyphs">80</text>
<text x="446.47" y="499" font-size="9.2" text-anchor="middle" fill="#333" textLength="13.35" lengthAdjust="spacingAndGlyphs">120</text>
<text x="472.11" y="499" font-size="9.2" text-anchor="middle" fill="#333" textLength="13.35" lengthAdjust="spacingAndGlyphs">160</text>
<text x="497.75" y="499" font-size="9.2" text-anchor="middle" fill="#333" textLength="13.35" lengthAdjust="spacingAndGlyphs">200</text>
<text x="523.39" y="499" font-size="9.2" text-anchor="middle" fill="#333" textLength="13.35" lengthAdjust="spacingAndGlyphs">240</text>
<text x="549.03" y="499" font-size="9.2" text-anchor="middle" fill="#333" textLength="13.35" lengthAdjust="spacingAndGlyphs">280</text>
<text x="574.67" y="499" font-size="9.2" text-anchor="middle" fill="#333" textLength="13.35" lengthAdjust="spacingAndGlyphs">320</text>
<text x="600.31" y="499" font-size="9.2" text-anchor="middle" fill="#333" textLength="13.35" lengthAdjust="spacingAndGlyphs">360</text>
<text x="625.95" y="499" font-size="9.2" text-anchor="middle" fill="#333" textLength="13.35" lengthAdjust="spacingAndGlyphs">400</text>
<text x="651.59" y="499" font-size="9.2" text-anchor="middle" fill="#333" textLength="13.35" lengthAdjust="spacingAndGlyphs">440</text>
<text x="511.2" y="515.1" font-size="10.8" text-anchor="middle" fill="#222" textLength="89.6" lengthAdjust="spacingAndGlyphs">Wire Diameter [nm]</text>
<text transform="translate(681.5,382.5) rotate(-90)" font-size="10.8" text-anchor="middle" fill="#222" textLength="121.6" lengthAdjust="spacingAndGlyphs">Transition Temperature [K]</text>
<text x="345.6" y="282.6" font-size="16" text-anchor="start" fill="#111">d</text>
<text x="357.3" y="282.2" font-size="15.5" text-anchor="start" fill="#111">)</text>
<rect x="431.35" y="327.02" width="4.6" height="4.6" fill="#00ff00"/>
<rect x="495.45" y="381.75" width="4.6" height="4.6" fill="#00ff00"/>
<line x1="429.8" y1="359.21" x2="437.5" y2="359.21" stroke="#111" stroke-width="0.8"/>
<line x1="429.8" y1="357.61" x2="429.8" y2="360.81" stroke="#111" stroke-width="0.8"/>
<line x1="437.5" y1="357.61" x2="437.5" y2="360.81" stroke="#111" stroke-width="0.8"/>
<line x1="552.24" y1="395.45" x2="571.47" y2="395.45" stroke="#111" stroke-width="0.8"/>
<line x1="552.24" y1="393.85" x2="552.24" y2="397.05" stroke="#111" stroke-width="0.8"/>
<line x1="571.47" y1="393.85" x2="571.47" y2="397.05" stroke="#111" stroke-width="0.8"/>
<line x1="613.13" y1="417.16" x2="638.77" y2="417.16" stroke="#111" stroke-width="0.8"/>
<line x1="613.13" y1="415.56" x2="613.13" y2="418.76" stroke="#111" stroke-width="0.8"/>
<line x1="638.77" y1="415.56" x2="638.77" y2="418.76" stroke="#111" stroke-width="0.8"/>
<rect x="392.89" y="360.87" width="4.6" height="4.6" fill="#000000"/>
<rect x="405.71" y="350.75" width="4.6" height="4.6" fill="#000000"/>
<rect x="431.35" y="356.91" width="4.6" height="4.6" fill="#000000"/>
<rect x="559.55" y="393.15" width="4.6" height="4.6" fill="#000000"/>
<rect x="623.65" y="414.86" width="4.6" height="4.6" fill="#000000"/>
<line x1="429.8" y1="337.41" x2="437.5" y2="337.41" stroke="#ff2222" stroke-width="0.8"/>
<line x1="429.8" y1="335.81" x2="429.8" y2="339.01" stroke="#ff2222" stroke-width="0.8"/>
<line x1="437.5" y1="335.81" x2="437.5" y2="339.01" stroke="#ff2222" stroke-width="0.8"/>
<line x1="454.16" y1="344.13" x2="464.42" y2="344.13" stroke="#ff2222" stroke-width="0.8"/>
<line x1="454.16" y1="342.53" x2="454.16" y2="345.73" stroke="#ff2222" stroke-width="0.8"/>
<line x1="464.42" y1="342.53" x2="464.42" y2="345.73" stroke="#ff2222" stroke-width="0.8"/>
<line x1="552.24" y1="425.35" x2="571.47" y2="425.35" stroke="#ff2222" stroke-width="0.8"/>
<line x1="552.24" y1="423.75" x2="552.24" y2="426.95" stroke="#ff2222" stroke-width="0.8"/>
<line x1="571.47" y1="423.75" x2="571.47" y2="426.95" stroke="#ff2222" stroke-width="0.8"/>
<rect x="386.48" y="383.4" width="4.6" height="4.6" fill="#ff0000"/>
<rect x="392.89" y="353.05" width="4.6" height="4.6" fill="#ff0000"/>
<rect x="405.71" y="303.84" width="4.6" height="4.6" fill="#ff0000"/>
<rect x="431.35" y="335.11" width="4.6" height="4.6" fill="#ff0000"/>
<rect x="456.99" y="341.83" width="4.6" height="4.6" fill="#ff0000"/>
<rect x="559.55" y="423.05" width="4.6" height="4.6" fill="#ff0000"/>
<rect x="373.8" y="437.7" width="165.6" height="44.7" fill="#fff" stroke="#999" stroke-width="1"/>
<rect x="390.2" y="445.6" width="4.6" height="4.6" fill="#000000"/>
<text x="408.8" y="451.6" font-size="10.4" text-anchor="start" fill="#222" textLength="103.5" lengthAdjust="spacingAndGlyphs">Bi arrays grown at 22°C</text>
<rect x="390.2" y="457.85" width="4.6" height="4.6" fill="#ff0000"/>
<text x="408.8" y="463.85" font-size="10.4" text-anchor="start" fill="#222" textLength="103.5" lengthAdjust="spacingAndGlyphs">Bi arrays grown at 40°C</text>
<rect x="390.2" y="470.1" width="4.6" height="4.6" fill="#00ff00"/>
<text x="408.8" y="476.1" font-size="10.4" text-anchor="start" fill="#222" textLength="53.7" lengthAdjust="spacingAndGlyphs">Murata et al.</text>
</svg>
</body></html>
